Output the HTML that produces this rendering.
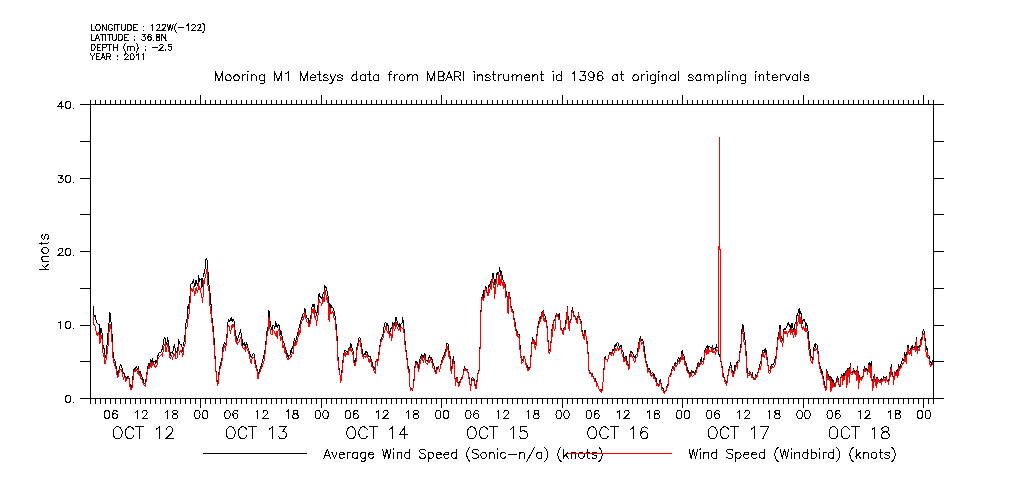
<!DOCTYPE html><html><head><meta charset="utf-8"><style>
html,body{margin:0;padding:0;background:#fff;}
svg{display:block;will-change:transform;}
text{font-family:"Liberation Sans",sans-serif;fill:#000;}
</style></head><body>
<svg width="1009" height="504" viewBox="0 0 1009 504">
<rect width="1009" height="504" fill="#fff"/>
<path d="M80.5 104.5L943.5 104.5 M80.5 398.5L943.5 398.5 M90.5 104.5L90.5 398.5 M933.5 104.5L933.5 398.5 M90.5 100.5L90.5 104.5 M90.5 398.5L90.5 403.5 M95.5 100.5L95.5 104.5 M95.5 398.5L95.5 403.5 M100.5 100.5L100.5 104.5 M100.5 398.5L100.5 403.5 M105.5 100.5L105.5 104.5 M105.5 398.5L105.5 403.5 M110.5 100.5L110.5 104.5 M110.5 398.5L110.5 403.5 M115.5 100.5L115.5 104.5 M115.5 398.5L115.5 403.5 M120.5 100.5L120.5 104.5 M120.5 398.5L120.5 403.5 M125.5 100.5L125.5 104.5 M125.5 398.5L125.5 403.5 M130.5 100.5L130.5 104.5 M130.5 398.5L130.5 403.5 M135.5 100.5L135.5 104.5 M135.5 398.5L135.5 403.5 M140.5 100.5L140.5 104.5 M140.5 398.5L140.5 403.5 M145.5 100.5L145.5 104.5 M145.5 398.5L145.5 403.5 M150.5 100.5L150.5 104.5 M150.5 398.5L150.5 403.5 M155.5 100.5L155.5 104.5 M155.5 398.5L155.5 403.5 M160.5 100.5L160.5 104.5 M160.5 398.5L160.5 403.5 M165.5 100.5L165.5 104.5 M165.5 398.5L165.5 403.5 M170.5 100.5L170.5 104.5 M170.5 398.5L170.5 403.5 M175.5 100.5L175.5 104.5 M175.5 398.5L175.5 403.5 M180.5 100.5L180.5 104.5 M180.5 398.5L180.5 403.5 M185.5 100.5L185.5 104.5 M185.5 398.5L185.5 403.5 M190.5 100.5L190.5 104.5 M190.5 398.5L190.5 403.5 M195.5 100.5L195.5 104.5 M195.5 398.5L195.5 403.5 M200.5 95.5L200.5 104.5 M200.5 398.5L200.5 407.5 M205.5 100.5L205.5 104.5 M205.5 398.5L205.5 403.5 M210.5 100.5L210.5 104.5 M210.5 398.5L210.5 403.5 M215.5 100.5L215.5 104.5 M215.5 398.5L215.5 403.5 M220.5 100.5L220.5 104.5 M220.5 398.5L220.5 403.5 M226.5 100.5L226.5 104.5 M226.5 398.5L226.5 403.5 M231.5 100.5L231.5 104.5 M231.5 398.5L231.5 403.5 M236.5 100.5L236.5 104.5 M236.5 398.5L236.5 403.5 M241.5 100.5L241.5 104.5 M241.5 398.5L241.5 403.5 M246.5 100.5L246.5 104.5 M246.5 398.5L246.5 403.5 M251.5 100.5L251.5 104.5 M251.5 398.5L251.5 403.5 M256.5 100.5L256.5 104.5 M256.5 398.5L256.5 403.5 M261.5 100.5L261.5 104.5 M261.5 398.5L261.5 403.5 M266.5 100.5L266.5 104.5 M266.5 398.5L266.5 403.5 M271.5 100.5L271.5 104.5 M271.5 398.5L271.5 403.5 M276.5 100.5L276.5 104.5 M276.5 398.5L276.5 403.5 M281.5 100.5L281.5 104.5 M281.5 398.5L281.5 403.5 M286.5 100.5L286.5 104.5 M286.5 398.5L286.5 403.5 M291.5 100.5L291.5 104.5 M291.5 398.5L291.5 403.5 M296.5 100.5L296.5 104.5 M296.5 398.5L296.5 403.5 M301.5 100.5L301.5 104.5 M301.5 398.5L301.5 403.5 M306.5 100.5L306.5 104.5 M306.5 398.5L306.5 403.5 M311.5 100.5L311.5 104.5 M311.5 398.5L311.5 403.5 M316.5 100.5L316.5 104.5 M316.5 398.5L316.5 403.5 M321.5 95.5L321.5 104.5 M321.5 398.5L321.5 407.5 M326.5 100.5L326.5 104.5 M326.5 398.5L326.5 403.5 M331.5 100.5L331.5 104.5 M331.5 398.5L331.5 403.5 M336.5 100.5L336.5 104.5 M336.5 398.5L336.5 403.5 M341.5 100.5L341.5 104.5 M341.5 398.5L341.5 403.5 M346.5 100.5L346.5 104.5 M346.5 398.5L346.5 403.5 M351.5 100.5L351.5 104.5 M351.5 398.5L351.5 403.5 M356.5 100.5L356.5 104.5 M356.5 398.5L356.5 403.5 M361.5 100.5L361.5 104.5 M361.5 398.5L361.5 403.5 M366.5 100.5L366.5 104.5 M366.5 398.5L366.5 403.5 M371.5 100.5L371.5 104.5 M371.5 398.5L371.5 403.5 M376.5 100.5L376.5 104.5 M376.5 398.5L376.5 403.5 M381.5 100.5L381.5 104.5 M381.5 398.5L381.5 403.5 M386.5 100.5L386.5 104.5 M386.5 398.5L386.5 403.5 M391.5 100.5L391.5 104.5 M391.5 398.5L391.5 403.5 M396.5 100.5L396.5 104.5 M396.5 398.5L396.5 403.5 M401.5 100.5L401.5 104.5 M401.5 398.5L401.5 403.5 M406.5 100.5L406.5 104.5 M406.5 398.5L406.5 403.5 M411.5 100.5L411.5 104.5 M411.5 398.5L411.5 403.5 M416.5 100.5L416.5 104.5 M416.5 398.5L416.5 403.5 M421.5 100.5L421.5 104.5 M421.5 398.5L421.5 403.5 M426.5 100.5L426.5 104.5 M426.5 398.5L426.5 403.5 M431.5 100.5L431.5 104.5 M431.5 398.5L431.5 403.5 M436.5 100.5L436.5 104.5 M436.5 398.5L436.5 403.5 M441.5 95.5L441.5 104.5 M441.5 398.5L441.5 407.5 M446.5 100.5L446.5 104.5 M446.5 398.5L446.5 403.5 M451.5 100.5L451.5 104.5 M451.5 398.5L451.5 403.5 M456.5 100.5L456.5 104.5 M456.5 398.5L456.5 403.5 M461.5 100.5L461.5 104.5 M461.5 398.5L461.5 403.5 M466.5 100.5L466.5 104.5 M466.5 398.5L466.5 403.5 M471.5 100.5L471.5 104.5 M471.5 398.5L471.5 403.5 M476.5 100.5L476.5 104.5 M476.5 398.5L476.5 403.5 M481.5 100.5L481.5 104.5 M481.5 398.5L481.5 403.5 M487.5 100.5L487.5 104.5 M487.5 398.5L487.5 403.5 M492.5 100.5L492.5 104.5 M492.5 398.5L492.5 403.5 M497.5 100.5L497.5 104.5 M497.5 398.5L497.5 403.5 M502.5 100.5L502.5 104.5 M502.5 398.5L502.5 403.5 M507.5 100.5L507.5 104.5 M507.5 398.5L507.5 403.5 M512.5 100.5L512.5 104.5 M512.5 398.5L512.5 403.5 M517.5 100.5L517.5 104.5 M517.5 398.5L517.5 403.5 M522.5 100.5L522.5 104.5 M522.5 398.5L522.5 403.5 M527.5 100.5L527.5 104.5 M527.5 398.5L527.5 403.5 M532.5 100.5L532.5 104.5 M532.5 398.5L532.5 403.5 M537.5 100.5L537.5 104.5 M537.5 398.5L537.5 403.5 M542.5 100.5L542.5 104.5 M542.5 398.5L542.5 403.5 M547.5 100.5L547.5 104.5 M547.5 398.5L547.5 403.5 M552.5 100.5L552.5 104.5 M552.5 398.5L552.5 403.5 M557.5 100.5L557.5 104.5 M557.5 398.5L557.5 403.5 M562.5 95.5L562.5 104.5 M562.5 398.5L562.5 407.5 M567.5 100.5L567.5 104.5 M567.5 398.5L567.5 403.5 M572.5 100.5L572.5 104.5 M572.5 398.5L572.5 403.5 M577.5 100.5L577.5 104.5 M577.5 398.5L577.5 403.5 M582.5 100.5L582.5 104.5 M582.5 398.5L582.5 403.5 M587.5 100.5L587.5 104.5 M587.5 398.5L587.5 403.5 M592.5 100.5L592.5 104.5 M592.5 398.5L592.5 403.5 M597.5 100.5L597.5 104.5 M597.5 398.5L597.5 403.5 M602.5 100.5L602.5 104.5 M602.5 398.5L602.5 403.5 M607.5 100.5L607.5 104.5 M607.5 398.5L607.5 403.5 M612.5 100.5L612.5 104.5 M612.5 398.5L612.5 403.5 M617.5 100.5L617.5 104.5 M617.5 398.5L617.5 403.5 M622.5 100.5L622.5 104.5 M622.5 398.5L622.5 403.5 M627.5 100.5L627.5 104.5 M627.5 398.5L627.5 403.5 M632.5 100.5L632.5 104.5 M632.5 398.5L632.5 403.5 M637.5 100.5L637.5 104.5 M637.5 398.5L637.5 403.5 M642.5 100.5L642.5 104.5 M642.5 398.5L642.5 403.5 M647.5 100.5L647.5 104.5 M647.5 398.5L647.5 403.5 M652.5 100.5L652.5 104.5 M652.5 398.5L652.5 403.5 M657.5 100.5L657.5 104.5 M657.5 398.5L657.5 403.5 M662.5 100.5L662.5 104.5 M662.5 398.5L662.5 403.5 M667.5 100.5L667.5 104.5 M667.5 398.5L667.5 403.5 M672.5 100.5L672.5 104.5 M672.5 398.5L672.5 403.5 M677.5 100.5L677.5 104.5 M677.5 398.5L677.5 403.5 M682.5 95.5L682.5 104.5 M682.5 398.5L682.5 407.5 M687.5 100.5L687.5 104.5 M687.5 398.5L687.5 403.5 M692.5 100.5L692.5 104.5 M692.5 398.5L692.5 403.5 M697.5 100.5L697.5 104.5 M697.5 398.5L697.5 403.5 M702.5 100.5L702.5 104.5 M702.5 398.5L702.5 403.5 M707.5 100.5L707.5 104.5 M707.5 398.5L707.5 403.5 M712.5 100.5L712.5 104.5 M712.5 398.5L712.5 403.5 M717.5 100.5L717.5 104.5 M717.5 398.5L717.5 403.5 M722.5 100.5L722.5 104.5 M722.5 398.5L722.5 403.5 M727.5 100.5L727.5 104.5 M727.5 398.5L727.5 403.5 M732.5 100.5L732.5 104.5 M732.5 398.5L732.5 403.5 M737.5 100.5L737.5 104.5 M737.5 398.5L737.5 403.5 M742.5 100.5L742.5 104.5 M742.5 398.5L742.5 403.5 M747.5 100.5L747.5 104.5 M747.5 398.5L747.5 403.5 M753.5 100.5L753.5 104.5 M753.5 398.5L753.5 403.5 M758.5 100.5L758.5 104.5 M758.5 398.5L758.5 403.5 M763.5 100.5L763.5 104.5 M763.5 398.5L763.5 403.5 M768.5 100.5L768.5 104.5 M768.5 398.5L768.5 403.5 M773.5 100.5L773.5 104.5 M773.5 398.5L773.5 403.5 M778.5 100.5L778.5 104.5 M778.5 398.5L778.5 403.5 M783.5 100.5L783.5 104.5 M783.5 398.5L783.5 403.5 M788.5 100.5L788.5 104.5 M788.5 398.5L788.5 403.5 M793.5 100.5L793.5 104.5 M793.5 398.5L793.5 403.5 M798.5 100.5L798.5 104.5 M798.5 398.5L798.5 403.5 M803.5 95.5L803.5 104.5 M803.5 398.5L803.5 407.5 M808.5 100.5L808.5 104.5 M808.5 398.5L808.5 403.5 M813.5 100.5L813.5 104.5 M813.5 398.5L813.5 403.5 M818.5 100.5L818.5 104.5 M818.5 398.5L818.5 403.5 M823.5 100.5L823.5 104.5 M823.5 398.5L823.5 403.5 M828.5 100.5L828.5 104.5 M828.5 398.5L828.5 403.5 M833.5 100.5L833.5 104.5 M833.5 398.5L833.5 403.5 M838.5 100.5L838.5 104.5 M838.5 398.5L838.5 403.5 M843.5 100.5L843.5 104.5 M843.5 398.5L843.5 403.5 M848.5 100.5L848.5 104.5 M848.5 398.5L848.5 403.5 M853.5 100.5L853.5 104.5 M853.5 398.5L853.5 403.5 M858.5 100.5L858.5 104.5 M858.5 398.5L858.5 403.5 M863.5 100.5L863.5 104.5 M863.5 398.5L863.5 403.5 M868.5 100.5L868.5 104.5 M868.5 398.5L868.5 403.5 M873.5 100.5L873.5 104.5 M873.5 398.5L873.5 403.5 M878.5 100.5L878.5 104.5 M878.5 398.5L878.5 403.5 M883.5 100.5L883.5 104.5 M883.5 398.5L883.5 403.5 M888.5 100.5L888.5 104.5 M888.5 398.5L888.5 403.5 M893.5 100.5L893.5 104.5 M893.5 398.5L893.5 403.5 M898.5 100.5L898.5 104.5 M898.5 398.5L898.5 403.5 M903.5 100.5L903.5 104.5 M903.5 398.5L903.5 403.5 M908.5 100.5L908.5 104.5 M908.5 398.5L908.5 403.5 M913.5 100.5L913.5 104.5 M913.5 398.5L913.5 403.5 M918.5 100.5L918.5 104.5 M918.5 398.5L918.5 403.5 M923.5 95.5L923.5 104.5 M923.5 398.5L923.5 407.5 M928.5 100.5L928.5 104.5 M928.5 398.5L928.5 403.5 M933.5 100.5L933.5 104.5 M933.5 398.5L933.5 403.5 M80.5 398.5L90.5 398.5 M933.5 398.5L943.5 398.5 M80.5 361.5L90.5 361.5 M933.5 361.5L943.5 361.5 M80.5 325.5L90.5 325.5 M933.5 325.5L943.5 325.5 M80.5 288.5L90.5 288.5 M933.5 288.5L943.5 288.5 M80.5 251.5L90.5 251.5 M933.5 251.5L943.5 251.5 M80.5 214.5L90.5 214.5 M933.5 214.5L943.5 214.5 M80.5 178.5L90.5 178.5 M933.5 178.5L943.5 178.5 M80.5 141.5L90.5 141.5 M933.5 141.5L943.5 141.5 M80.5 104.5L90.5 104.5 M933.5 104.5L943.5 104.5" stroke="#000" stroke-width="1" fill="none" shape-rendering="crispEdges" stroke-linecap="square"/>
<path transform="translate(48.5,252) rotate(-90) translate(-19.11,0)" d="M1.82 -10.00L1.82 0.00M6.37 -6.66L1.82 -1.90M3.64 -3.81L6.83 0.00M9.55 -6.66L9.55 0.00M9.55 -4.76L10.92 -6.19L11.83 -6.66L13.20 -6.66L14.11 -6.19L14.56 -4.76L14.56 0.00M20.02 -6.66L19.11 -6.19L18.20 -5.24L17.75 -3.81L17.75 -2.86L18.20 -1.43L19.11 -0.48L20.02 0.00L21.39 0.00L22.30 -0.48L23.21 -1.43L23.66 -2.86L23.66 -3.81L23.21 -5.24L22.30 -6.19L21.39 -6.66L20.02 -6.66M27.30 -10.00L27.30 -1.90L27.76 -0.48L28.67 0.00L29.57 0.00M25.94 -6.66L29.12 -6.66M36.86 -5.24L36.40 -6.19L35.04 -6.66L33.67 -6.66L32.30 -6.19L31.85 -5.24L32.30 -4.28L33.22 -3.81L35.49 -3.33L36.40 -2.86L36.86 -1.90L36.86 -1.43L36.40 -0.48L35.04 0.00L33.67 0.00L32.30 -0.48L31.85 -1.43" stroke="#000" stroke-width="1" fill="none" shape-rendering="crispEdges"/>
<polyline points="93.2,305.6 94.0,316.7 94.9,314.9 95.7,319.2 96.5,322.1 97.4,323.4 98.2,324.3 99.1,324.5 99.9,336.6 100.7,327.6 101.6,330.3 102.4,335.4 103.2,348.0 104.1,348.7 104.9,357.6 105.7,357.5 106.6,350.1 107.4,339.9 108.3,329.9 109.1,322.4 109.9,311.7 110.8,319.4 111.6,327.8 112.4,340.2 113.3,357.5 114.1,359.0 114.9,360.7 115.8,364.8 116.6,368.2 117.5,375.0 118.3,371.4 119.1,369.7 120.0,365.9 120.8,364.8 121.6,365.3 122.5,370.4 123.3,372.5 124.2,373.8 125.0,376.8 125.8,377.1 126.7,378.7 127.5,376.9 128.3,376.7 129.2,378.7 130.0,383.8 130.8,386.6 131.7,387.3 132.5,382.0 133.4,372.1 134.2,368.1 135.0,369.8 135.9,367.8 136.7,366.9 137.5,368.9 138.4,367.5 139.2,372.5 140.0,371.3 140.9,373.8 141.7,376.3 142.6,378.2 143.4,380.7 144.2,383.6 145.1,384.3 145.9,379.8 146.7,373.6 147.6,369.2 148.4,363.1 149.2,366.6 150.1,362.5 150.9,359.1 151.8,364.6 152.6,360.0 153.4,362.2 154.3,361.5 155.1,360.6 155.9,363.3 156.8,361.6 157.6,356.8 158.4,354.4 159.3,352.8 160.1,352.5 161.0,351.9 161.8,350.6 162.6,346.8 163.5,342.8 164.3,337.5 165.1,337.9 166.0,345.0 166.8,343.3 167.6,337.2 168.5,342.6 169.3,348.3 170.2,355.6 171.0,352.0 171.8,352.3 172.7,353.1 173.5,349.0 174.3,344.6 175.2,348.9 176.0,352.3 176.9,351.7 177.7,351.6 178.5,338.6 179.4,343.7 180.2,344.4 181.0,343.8 181.9,345.8 182.7,351.5 183.5,346.5 184.4,339.2 185.2,333.5 186.1,321.4 186.9,320.6 187.7,306.3 188.6,309.4 189.4,299.2 190.2,294.7 191.1,283.1 191.9,283.6 192.7,282.4 193.6,278.6 194.4,286.3 195.3,285.6 196.1,279.7 196.9,283.6 197.8,285.4 198.6,275.0 199.4,281.2 200.3,279.4 201.1,278.9 201.9,288.0 202.8,279.1 203.6,273.2 204.5,273.1 205.3,266.9 206.1,258.2 207.0,259.9 207.8,268.2 208.6,282.0 209.5,287.9 210.3,296.3 211.1,305.5 212.0,317.5 212.8,324.9 213.7,330.7 214.5,348.6 215.3,360.3 216.2,373.8 217.0,379.6 217.8,384.6 218.7,376.3 219.5,366.5 220.3,365.7 221.2,360.7 222.0,357.7 222.9,346.9 223.7,345.0 224.5,343.0 225.4,344.5 226.2,343.0 227.0,334.3 227.9,322.2 228.7,319.6 229.5,321.2 230.4,320.7 231.2,316.9 232.1,321.4 232.9,319.7 233.7,320.1 234.6,323.7 235.4,335.7 236.2,336.6 237.1,340.4 237.9,338.0 238.8,335.5 239.6,332.7 240.4,330.7 241.3,333.7 242.1,340.1 242.9,344.9 243.8,343.4 244.6,343.0 245.4,347.9 246.3,342.0 247.1,344.9 248.0,348.1 248.8,350.5 249.6,352.6 250.5,355.3 251.3,357.7 252.1,355.9 253.0,354.1 253.8,353.3 254.6,357.1 255.5,363.7 256.3,365.6 257.2,369.7 258.0,377.3 258.8,372.7 259.7,370.2 260.5,366.7 261.3,365.0 262.2,362.0 263.0,358.9 263.8,355.9 264.7,352.2 265.5,345.7 266.4,337.7 267.2,328.7 268.0,327.4 268.9,309.9 269.7,320.2 270.5,323.6 271.4,329.6 272.2,329.4 273.0,324.8 273.9,326.0 274.7,328.7 275.6,322.4 276.4,323.9 277.2,327.8 278.1,324.6 278.9,325.1 279.7,328.1 280.6,335.1 281.4,331.0 282.2,336.9 283.1,341.1 283.9,341.8 284.8,350.3 285.6,347.6 286.4,351.9 287.3,354.3 288.1,357.2 288.9,355.1 289.8,355.9 290.6,351.0 291.5,352.0 292.3,346.5 293.1,348.9 294.0,340.7 294.8,338.9 295.6,342.7 296.5,337.5 297.3,335.7 298.1,331.7 299.0,328.1 299.8,325.4 300.7,321.7 301.5,318.1 302.3,317.1 303.2,313.5 304.0,312.9 304.8,307.9 305.7,313.7 306.5,317.3 307.3,318.3 308.2,318.9 309.0,324.7 309.9,319.9 310.7,319.2 311.5,309.4 312.4,304.7 313.2,306.3 314.0,304.4 314.9,313.0 315.7,310.6 316.5,314.6 317.4,311.8 318.2,302.8 319.1,293.3 319.9,296.7 320.7,297.1 321.6,298.1 322.4,298.3 323.2,292.3 324.1,293.5 324.9,285.6 325.7,287.3 326.6,288.3 327.4,293.0 328.3,296.8 329.1,309.1 329.9,303.5 330.8,308.0 331.6,306.4 332.4,307.6 333.3,308.1 334.1,311.3 334.9,315.0 335.8,323.4 336.6,327.3 337.5,345.1 338.3,363.3 339.1,368.8 340.0,374.6 340.8,382.3 341.6,373.9 342.5,366.1 343.3,357.4 344.2,352.1 345.0,350.1 345.8,350.6 346.7,351.7 347.5,351.5 348.3,353.1 349.2,347.0 350.0,348.4 350.8,343.5 351.7,347.1 352.5,349.9 353.4,352.2 354.2,361.8 355.0,364.1 355.9,359.4 356.7,348.8 357.5,345.4 358.4,341.1 359.2,337.3 360.0,338.1 360.9,342.1 361.7,346.4 362.6,352.8 363.4,356.1 364.2,353.3 365.1,355.0 365.9,351.7 366.7,351.9 367.6,353.4 368.4,356.1 369.2,356.1 370.1,356.4 370.9,358.9 371.8,362.5 372.6,362.8 373.4,368.8 374.3,369.1 375.1,366.5 375.9,360.9 376.8,359.2 377.6,362.2 378.4,356.7 379.3,350.4 380.1,344.5 381.0,339.1 381.8,337.0 382.6,336.8 383.5,330.7 384.3,325.1 385.1,323.0 386.0,322.7 386.8,326.4 387.6,324.3 388.5,326.6 389.3,333.4 390.2,330.9 391.0,328.6 391.8,327.7 392.7,323.1 393.5,323.7 394.3,326.1 395.2,321.1 396.0,317.4 396.8,320.3 397.7,323.8 398.5,325.8 399.4,324.5 400.2,327.4 401.0,323.7 401.9,324.0 402.7,317.4 403.5,323.5 404.4,333.3 405.2,344.0 406.1,350.6 406.9,356.1 407.7,367.5 408.6,366.6 409.4,372.2 410.2,391.1 411.1,388.7 411.9,389.7 412.7,390.7 413.6,383.3 414.4,375.1 415.3,362.1 416.1,361.1 416.9,362.7 417.8,363.3 418.6,366.3 419.4,363.9 420.3,356.9 421.1,355.5 421.9,354.8 422.8,358.9 423.6,356.5 424.5,354.1 425.3,355.0 426.1,361.2 427.0,360.3 427.8,361.9 428.6,358.5 429.5,356.3 430.3,357.4 431.1,357.8 432.0,359.4 432.8,362.9 433.7,364.9 434.5,368.1 435.3,371.4 436.2,372.2 437.0,367.4 437.8,368.8 438.7,366.3 439.5,372.0 440.3,366.7 441.2,363.3 442.0,359.8 442.9,357.2 443.7,356.8 444.5,353.1 445.4,352.2 446.2,348.2 447.0,343.3 447.9,343.0 448.7,350.0 449.5,352.2 450.4,358.2 451.2,373.3 452.1,365.1 452.9,359.8 453.7,355.9 454.6,370.4 455.4,384.5 456.2,381.1 457.1,376.7 457.9,382.2 458.8,384.3 459.6,382.6 460.4,379.6 461.3,378.7 462.1,377.2 462.9,375.5 463.8,369.9 464.6,367.0 465.4,368.5 466.3,369.7 467.1,369.3 468.0,372.1 468.8,375.5 469.6,380.2 470.5,387.8 471.3,383.0 472.1,377.3 473.0,377.8 473.8,378.6 474.6,381.7 475.5,386.2 476.3,385.7 477.2,379.1 478.0,373.3 478.8,371.5 479.7,365.9 480.5,318.1 481.3,306.3 482.2,294.4 483.0,299.1 483.8,291.5 484.7,292.8 485.5,285.9 486.4,288.4 487.2,292.8 488.0,295.4 488.9,286.1 489.7,286.7 490.5,281.1 491.4,289.7 492.2,275.9 493.0,273.4 493.9,278.3 494.7,284.2 495.6,283.6 496.4,275.7 497.2,272.3 498.1,275.4 498.9,272.5 499.7,266.6 500.6,275.5 501.4,270.8 502.2,276.2 503.1,280.4 503.9,282.2 504.8,282.0 505.6,288.4 506.4,294.1 507.3,297.0 508.1,301.8 508.9,291.6 509.8,294.9 510.6,302.2 511.5,309.6 512.3,309.5 513.1,311.6 514.0,318.5 514.8,321.8 515.6,323.7 516.5,334.2 517.3,332.1 518.1,334.0 519.0,334.0 519.8,342.5 520.7,351.9 521.5,361.7 522.3,360.7 523.2,359.3 524.0,356.5 524.8,357.0 525.7,363.6 526.5,364.3 527.3,365.3 528.2,369.2 529.0,367.4 529.9,368.2 530.7,359.8 531.5,348.5 532.4,337.3 533.2,340.9 534.0,339.6 534.9,345.5 535.7,344.3 536.5,338.1 537.4,330.8 538.2,324.6 539.1,320.9 539.9,317.3 540.7,318.1 541.6,312.7 542.4,312.4 543.2,310.7 544.1,314.8 544.9,315.8 545.7,319.3 546.6,321.3 547.4,330.6 548.3,344.5 549.1,349.2 549.9,351.0 550.8,345.3 551.6,330.4 552.4,331.4 553.3,320.5 554.1,320.7 554.9,319.7 555.8,315.6 556.6,313.6 557.5,314.6 558.3,318.1 559.1,313.2 560.0,320.4 560.8,328.3 561.6,328.1 562.5,333.0 563.3,329.4 564.1,327.4 565.0,327.4 565.8,320.9 566.7,316.2 567.5,305.9 568.3,322.1 569.2,326.7 570.0,321.2 570.8,321.4 571.7,311.7 572.5,307.4 573.4,313.1 574.2,315.2 575.0,315.7 575.9,318.0 576.7,321.0 577.5,321.4 578.4,312.1 579.2,317.3 580.0,318.8 580.9,319.7 581.7,329.3 582.6,332.2 583.4,336.0 584.2,336.9 585.1,329.6 585.9,335.1 586.7,339.9 587.6,344.6 588.4,358.8 589.2,372.9 590.1,371.8 590.9,372.8 591.8,375.7 592.6,374.2 593.4,377.9 594.3,378.7 595.1,378.5 595.9,380.7 596.8,383.0 597.6,383.5 598.4,387.6 599.3,389.4 600.1,389.9 601.0,391.8 601.8,390.4 602.6,385.4 603.5,377.1 604.3,362.5 605.1,356.1 606.0,359.3 606.8,359.8 607.6,359.4 608.5,357.8 609.3,352.9 610.2,353.0 611.0,352.5 611.8,352.7 612.7,349.5 613.5,350.1 614.3,348.0 615.2,344.8 616.0,346.5 616.8,343.1 617.7,342.4 618.5,343.5 619.4,347.3 620.2,346.8 621.0,345.2 621.9,349.9 622.7,350.4 623.5,355.5 624.4,359.2 625.2,356.2 626.1,356.7 626.9,362.2 627.7,361.9 628.6,368.5 629.4,363.9 630.2,351.3 631.1,351.5 631.9,352.7 632.7,353.0 633.6,355.5 634.4,357.6 635.3,358.6 636.1,354.8 636.9,355.1 637.8,350.6 638.6,342.7 639.4,341.2 640.3,336.0 641.1,339.1 641.9,341.1 642.8,339.7 643.6,343.6 644.5,349.9 645.3,355.7 646.1,361.7 647.0,364.2 647.8,367.7 648.6,368.5 649.5,369.0 650.3,370.4 651.1,373.8 652.0,373.2 652.8,372.4 653.7,376.0 654.5,374.8 655.3,378.0 656.2,378.7 657.0,383.3 657.8,384.0 658.7,384.4 659.5,383.4 660.3,378.7 661.2,384.5 662.0,387.7 662.9,388.2 663.7,390.2 664.5,392.2 665.4,390.9 666.2,390.0 667.0,386.0 667.9,385.0 668.7,378.6 669.5,375.3 670.4,374.6 671.2,372.0 672.1,369.1 672.9,366.6 673.7,366.8 674.6,364.3 675.4,362.5 676.2,363.9 677.1,363.3 677.9,359.4 678.8,357.3 679.6,361.5 680.4,357.9 681.3,357.9 682.1,350.0 682.9,355.4 683.8,354.5 684.6,359.8 685.4,363.1 686.3,363.6 687.1,367.1 688.0,371.6 688.8,370.4 689.6,376.0 690.5,374.4 691.3,370.8 692.1,371.0 693.0,372.6 693.8,371.8 694.6,373.1 695.5,372.2 696.3,369.2 697.2,367.0 698.0,363.6 698.8,362.1 699.7,365.9 700.5,360.2 701.3,357.9 702.2,361.5 703.0,362.1 703.8,360.3 704.7,350.2 705.5,348.9 706.4,346.9 707.2,345.6 708.0,348.6 708.9,346.3 709.7,346.5 710.5,347.4 711.4,348.7 712.2,346.0 713.0,349.6 713.9,348.4 714.7,348.1 715.6,350.0 716.4,345.2 717.2,347.2 718.1,347.2 718.9,354.2 719.7,355.5 720.6,359.6 721.4,364.4 722.2,366.9 723.1,374.1 723.9,376.2 724.8,379.8 725.6,381.1 726.4,382.3 727.3,380.4 728.1,374.8 728.9,369.0 729.8,367.0 730.6,363.7 731.4,366.6 732.3,371.3 733.1,374.9 734.0,370.9 734.8,366.2 735.6,366.9 736.5,362.5 737.3,363.9 738.1,360.5 739.0,360.2 739.8,352.0 740.7,348.4 741.5,337.4 742.3,324.4 743.2,325.3 744.0,331.6 744.8,338.3 745.7,344.9 746.5,360.3 747.3,372.2 748.2,373.7 749.0,372.9 749.9,371.8 750.7,373.1 751.5,376.0 752.4,373.4 753.2,377.8 754.0,379.9 754.9,378.3 755.7,375.3 756.5,376.3 757.4,374.8 758.2,370.7 759.1,367.5 759.9,364.2 760.7,363.4 761.6,357.1 762.4,350.8 763.2,350.5 764.1,349.7 764.9,352.5 765.7,349.3 766.6,352.4 767.4,361.6 768.3,366.0 769.1,371.2 769.9,370.4 770.8,366.3 771.6,364.9 772.4,364.6 773.3,364.8 774.1,362.6 774.9,359.2 775.8,357.8 776.6,350.5 777.5,343.2 778.3,332.9 779.1,331.8 780.0,325.0 780.8,336.2 781.6,336.9 782.5,341.0 783.3,336.2 784.1,328.5 785.0,329.6 785.8,328.2 786.7,327.2 787.5,324.5 788.3,321.9 789.2,326.3 790.0,324.6 790.8,330.2 791.7,323.3 792.5,323.9 793.4,330.8 794.2,329.3 795.0,324.2 795.9,323.6 796.7,315.6 797.5,314.8 798.4,312.0 799.2,307.8 800.0,314.3 800.9,311.5 801.7,319.1 802.6,322.5 803.4,319.5 804.2,319.9 805.1,322.6 805.9,326.1 806.7,324.1 807.6,326.6 808.4,334.3 809.2,343.6 810.1,349.9 810.9,356.4 811.8,356.5 812.6,360.5 813.4,353.5 814.3,344.2 815.1,347.6 815.9,343.7 816.8,345.0 817.6,345.1 818.4,356.4 819.3,364.0 820.1,366.7 821.0,368.9 821.8,372.9 822.6,372.1 823.5,380.5 824.3,382.2 825.1,386.1 826.0,388.3 826.8,369.3 827.6,377.6 828.5,375.4 829.3,378.3 830.2,376.1 831.0,389.0 831.8,377.0 832.7,385.1 833.5,380.1 834.3,384.8 835.2,385.8 836.0,381.7 836.8,378.8 837.7,376.0 838.5,381.9 839.4,385.8 840.2,383.7 841.0,376.7 841.9,374.1 842.7,383.5 843.5,373.3 844.4,376.5 845.2,371.8 846.1,371.1 846.9,382.9 847.7,368.7 848.6,368.1 849.4,380.2 850.2,362.7 851.1,372.7 851.9,372.4 852.7,372.7 853.6,368.4 854.4,372.2 855.3,373.7 856.1,370.2 856.9,379.3 857.8,366.0 858.6,385.7 859.4,375.8 860.3,377.6 861.1,377.5 861.9,377.7 862.8,377.6 863.6,371.9 864.5,366.3 865.3,369.9 866.1,368.4 867.0,369.7 867.8,370.9 868.6,363.2 869.5,362.9 870.3,377.1 871.1,361.5 872.0,379.3 872.8,389.2 873.7,378.0 874.5,374.4 875.3,381.5 876.2,383.7 877.0,377.3 877.8,381.9 878.7,379.7 879.5,381.2 880.3,379.9 881.2,384.1 882.0,378.6 882.9,380.7 883.7,376.7 884.5,377.2 885.4,378.9 886.2,376.4 887.0,381.0 887.9,380.9 888.7,383.3 889.5,372.1 890.4,375.2 891.2,364.5 892.1,372.8 892.9,375.6 893.7,382.3 894.6,371.1 895.4,373.4 896.2,372.6 897.1,369.5 897.9,374.6 898.7,365.4 899.6,367.3 900.4,366.1 901.3,363.1 902.1,360.6 902.9,358.3 903.8,360.9 904.6,352.9 905.4,354.6 906.3,360.7 907.1,351.2 908.0,345.3 908.8,350.8 909.6,350.8 910.5,349.4 911.3,353.7 912.1,344.9 913.0,347.5 913.8,347.0 914.6,346.7 915.5,349.4 916.3,337.5 917.2,351.4 918.0,346.2 918.8,347.2 919.7,348.1 920.5,340.2 921.3,341.3 922.2,335.3 923.0,331.3 923.8,328.7 924.7,336.0 925.5,341.6 926.4,350.1 927.2,347.9 928.0,356.0 928.9,355.7 929.7,360.2 930.5,362.1 931.4,364.4 932.2,361.8 933.0,360.6" stroke="#000" stroke-width="1" fill="none" shape-rendering="crispEdges"/>
<polyline points="93.2,314.7 94.0,324.5 94.9,325.9 95.7,329.7 96.5,334.2 97.4,334.9 98.2,333.0 99.1,335.2 99.9,344.0 100.7,335.1 101.6,335.9 102.4,342.0 103.2,356.4 104.1,353.8 104.9,363.8 105.7,362.0 106.6,356.8 107.4,351.7 108.3,343.8 109.1,330.0 109.9,323.8 110.8,326.6 111.6,335.6 112.4,347.4 113.3,362.5 114.1,362.7 114.9,365.5 115.8,368.4 116.6,371.5 117.5,378.4 118.3,375.6 119.1,372.6 120.0,369.5 120.8,369.0 121.6,371.2 122.5,373.2 123.3,379.4 124.2,377.6 125.0,377.4 125.8,381.0 126.7,379.8 127.5,378.5 128.3,378.0 129.2,379.6 130.0,386.5 130.8,389.1 131.7,389.5 132.5,385.2 133.4,376.5 134.2,370.5 135.0,372.1 135.9,369.4 136.7,370.0 137.5,372.7 138.4,370.6 139.2,376.2 140.0,373.6 140.9,378.4 141.7,379.3 142.6,381.6 143.4,384.0 144.2,385.4 145.1,386.3 145.9,382.7 146.7,375.9 147.6,372.0 148.4,366.8 149.2,368.1 150.1,366.3 150.9,362.5 151.8,367.5 152.6,362.2 153.4,364.7 154.3,364.9 155.1,367.5 155.9,366.0 156.8,366.4 157.6,360.9 158.4,357.6 159.3,356.9 160.1,356.2 161.0,355.1 161.8,354.7 162.6,355.9 163.5,348.2 164.3,344.9 165.1,344.0 166.0,351.6 166.8,348.6 167.6,343.3 168.5,348.5 169.3,354.0 170.2,358.8 171.0,356.8 171.8,355.9 172.7,359.5 173.5,353.1 174.3,355.1 175.2,353.7 176.0,358.7 176.9,358.5 177.7,355.9 178.5,344.8 179.4,355.0 180.2,351.2 181.0,349.7 181.9,352.3 182.7,357.4 183.5,350.2 184.4,345.1 185.2,343.9 186.1,327.3 186.9,328.8 187.7,318.8 188.6,317.8 189.4,309.8 190.2,301.0 191.1,287.7 191.9,290.7 192.7,291.2 193.6,286.1 194.4,295.4 195.3,293.4 196.1,287.1 196.9,291.1 197.8,292.3 198.6,282.4 199.4,289.1 200.3,288.7 201.1,294.1 201.9,297.1 202.8,302.7 203.6,280.6 204.5,282.7 205.3,275.7 206.1,273.3 207.0,269.0 207.8,285.1 208.6,288.7 209.5,293.3 210.3,313.6 211.1,311.9 212.0,323.0 212.8,329.4 213.7,339.3 214.5,353.4 215.3,362.5 216.2,374.1 217.0,382.4 217.8,386.0 218.7,378.1 219.5,371.4 220.3,367.9 221.2,365.4 222.0,361.3 222.9,352.3 223.7,347.9 224.5,346.2 225.4,349.1 226.2,345.4 227.0,337.9 227.9,327.2 228.7,325.9 229.5,326.1 230.4,334.4 231.2,328.4 232.1,324.5 232.9,327.3 233.7,325.0 234.6,330.1 235.4,341.7 236.2,340.4 237.1,344.7 237.9,342.5 238.8,342.7 239.6,340.4 240.4,337.4 241.3,338.6 242.1,346.8 242.9,347.9 243.8,348.7 244.6,347.8 245.4,351.5 246.3,346.2 247.1,349.7 248.0,350.3 248.8,353.4 249.6,356.6 250.5,361.8 251.3,362.7 252.1,358.4 253.0,357.5 253.8,357.4 254.6,360.8 255.5,367.0 256.3,367.3 257.2,371.9 258.0,379.4 258.8,374.3 259.7,373.8 260.5,370.4 261.3,368.1 262.2,366.0 263.0,364.0 263.8,362.2 264.7,356.4 265.5,349.8 266.4,340.7 267.2,334.1 268.0,331.6 268.9,316.8 269.7,325.4 270.5,333.4 271.4,334.9 272.2,334.4 273.0,329.9 273.9,330.9 274.7,333.2 275.6,335.7 276.4,330.6 277.2,339.2 278.1,330.5 278.9,329.4 279.7,333.7 280.6,339.6 281.4,338.5 282.2,341.0 283.1,348.2 283.9,345.6 284.8,352.1 285.6,351.0 286.4,357.2 287.3,358.4 288.1,359.9 288.9,358.5 289.8,358.6 290.6,357.2 291.5,355.7 292.3,352.5 293.1,353.1 294.0,346.2 294.8,342.4 295.6,346.2 296.5,342.5 297.3,340.9 298.1,336.7 299.0,330.5 299.8,335.1 300.7,325.4 301.5,321.5 302.3,320.2 303.2,319.3 304.0,316.6 304.8,311.7 305.7,318.1 306.5,320.3 307.3,322.8 308.2,322.4 309.0,326.7 309.9,323.2 310.7,323.0 311.5,312.6 312.4,308.8 313.2,314.2 314.0,308.2 314.9,317.7 315.7,315.7 316.5,325.8 317.4,317.6 318.2,313.7 319.1,298.9 319.9,302.0 320.7,302.0 321.6,306.1 322.4,302.6 323.2,296.8 324.1,302.1 324.9,290.1 325.7,292.1 326.6,299.8 327.4,297.6 328.3,306.1 329.1,321.5 329.9,307.2 330.8,313.1 331.6,313.7 332.4,311.5 333.3,312.8 334.1,318.5 334.9,319.1 335.8,327.9 336.6,335.2 337.5,348.8 338.3,367.2 339.1,370.8 340.0,375.4 340.8,383.1 341.6,377.2 342.5,367.7 343.3,361.1 344.2,354.1 345.0,352.1 345.8,355.6 346.7,353.5 347.5,353.2 348.3,355.3 349.2,348.8 350.0,350.4 350.8,348.9 351.7,350.1 352.5,354.1 353.4,355.1 354.2,364.9 355.0,365.6 355.9,364.1 356.7,350.7 357.5,349.2 358.4,344.2 359.2,341.7 360.0,340.4 360.9,345.7 361.7,353.2 362.6,354.8 363.4,358.0 364.2,356.5 365.1,356.4 365.9,357.2 366.7,355.0 367.6,356.5 368.4,359.7 369.2,362.3 370.1,359.1 370.9,361.1 371.8,366.4 372.6,366.2 373.4,370.2 374.3,371.2 375.1,372.9 375.9,362.4 376.8,359.5 377.6,365.5 378.4,357.2 379.3,353.3 380.1,346.5 381.0,341.8 381.8,339.7 382.6,340.0 383.5,335.8 384.3,332.1 385.1,329.4 386.0,326.1 386.8,330.4 387.6,332.1 388.5,329.9 389.3,336.9 390.2,335.3 391.0,333.5 391.8,340.6 392.7,327.0 393.5,325.5 394.3,330.2 395.2,328.7 396.0,322.0 396.8,326.9 397.7,328.2 398.5,330.2 399.4,328.6 400.2,330.9 401.0,327.3 401.9,327.9 402.7,328.6 403.5,327.4 404.4,336.9 405.2,347.1 406.1,352.3 406.9,358.1 407.7,368.3 408.6,371.1 409.4,373.8 410.2,391.2 411.1,389.1 411.9,389.9 412.7,389.8 413.6,383.9 414.4,377.5 415.3,363.7 416.1,364.2 416.9,363.6 417.8,366.4 418.6,371.8 419.4,366.2 420.3,362.2 421.1,359.4 421.9,356.9 422.8,360.1 423.6,362.9 424.5,356.5 425.3,358.4 426.1,363.9 427.0,362.8 427.8,364.2 428.6,360.3 429.5,361.7 430.3,358.8 431.1,361.1 432.0,363.1 432.8,367.9 433.7,368.5 434.5,370.6 435.3,373.3 436.2,373.6 437.0,369.2 437.8,369.9 438.7,367.1 439.5,371.7 440.3,367.1 441.2,364.9 442.0,362.6 442.9,359.6 443.7,358.2 444.5,356.7 445.4,354.7 446.2,351.1 447.0,346.3 447.9,348.4 448.7,356.5 449.5,354.6 450.4,362.6 451.2,373.9 452.1,368.8 452.9,364.7 453.7,358.6 454.6,372.3 455.4,386.0 456.2,380.8 457.1,378.2 457.9,383.0 458.8,386.3 459.6,385.4 460.4,381.0 461.3,379.1 462.1,378.6 462.9,375.4 463.8,371.5 464.6,368.8 465.4,370.0 466.3,370.5 467.1,370.5 468.0,372.8 468.8,377.8 469.6,380.9 470.5,390.7 471.3,384.1 472.1,380.1 473.0,379.7 473.8,380.3 474.6,384.1 475.5,388.4 476.3,388.6 477.2,379.9 478.0,374.1 478.8,371.3 479.7,369.0 480.5,319.5 481.3,308.1 482.2,296.0 483.0,300.3 483.8,299.7 484.7,293.5 485.5,287.7 486.4,290.1 487.2,294.5 488.0,296.2 488.9,288.5 489.7,292.8 490.5,284.0 491.4,289.5 492.2,276.6 493.0,282.4 493.9,285.5 494.7,298.6 495.6,286.0 496.4,278.0 497.2,286.2 498.1,284.7 498.9,273.1 499.7,284.5 500.6,285.1 501.4,273.6 502.2,285.5 503.1,281.3 503.9,288.8 504.8,283.5 505.6,298.2 506.4,296.4 507.3,297.6 508.1,314.4 508.9,292.9 509.8,296.2 510.6,305.0 511.5,311.1 512.3,310.7 513.1,312.9 514.0,319.7 514.8,326.6 515.6,326.4 516.5,336.2 517.3,332.9 518.1,337.8 519.0,335.8 519.8,348.3 520.7,353.5 521.5,363.5 522.3,362.5 523.2,361.9 524.0,356.7 524.8,357.3 525.7,364.4 526.5,363.5 527.3,370.7 528.2,370.2 529.0,369.7 529.9,369.0 530.7,360.8 531.5,350.2 532.4,340.2 533.2,343.5 534.0,339.8 534.9,347.7 535.7,350.0 536.5,341.0 537.4,333.1 538.2,326.9 539.1,323.3 539.9,318.1 540.7,321.5 541.6,313.2 542.4,315.5 543.2,311.3 544.1,321.4 544.9,318.4 545.7,321.1 546.6,323.6 547.4,332.0 548.3,346.6 549.1,353.2 549.9,352.9 550.8,347.6 551.6,331.3 552.4,336.8 553.3,320.4 554.1,330.3 554.9,330.8 555.8,317.4 556.6,314.9 557.5,314.8 558.3,318.9 559.1,319.4 560.0,320.2 560.8,329.3 561.6,329.2 562.5,333.6 563.3,334.5 564.1,328.0 565.0,330.0 565.8,326.2 566.7,316.8 567.5,307.3 568.3,327.7 569.2,329.3 570.0,322.4 570.8,322.9 571.7,312.9 572.5,309.8 573.4,316.2 574.2,316.6 575.0,316.0 575.9,319.9 576.7,323.0 577.5,323.3 578.4,313.2 579.2,318.8 580.0,320.1 580.9,322.1 581.7,331.5 582.6,333.4 583.4,337.8 584.2,338.7 585.1,331.9 585.9,335.1 586.7,342.0 587.6,347.1 588.4,361.1 589.2,373.7 590.1,374.0 590.9,373.0 591.8,376.4 592.6,375.5 593.4,378.3 594.3,378.5 595.1,382.0 595.9,381.2 596.8,386.8 597.6,384.1 598.4,387.3 599.3,390.3 600.1,389.3 601.0,392.1 601.8,392.8 602.6,386.2 603.5,378.1 604.3,364.8 605.1,357.9 606.0,359.4 606.8,359.7 607.6,361.0 608.5,357.5 609.3,354.3 610.2,354.3 611.0,353.4 611.8,355.0 612.7,351.8 613.5,354.5 614.3,352.1 615.2,348.7 616.0,351.1 616.8,349.6 617.7,347.3 618.5,350.0 619.4,349.0 620.2,348.4 621.0,348.3 621.9,353.5 622.7,354.9 623.5,361.6 624.4,361.2 625.2,358.0 626.1,361.1 626.9,364.3 627.7,363.8 628.6,370.4 629.4,367.3 630.2,353.4 631.1,354.5 631.9,356.3 632.7,357.1 633.6,359.4 634.4,362.3 635.3,361.9 636.1,357.3 636.9,357.9 637.8,353.7 638.6,345.8 639.4,347.5 640.3,338.5 641.1,342.2 641.9,344.7 642.8,342.5 643.6,348.3 644.5,355.7 645.3,358.8 646.1,363.4 647.0,366.7 647.8,373.0 648.6,370.4 649.5,372.2 650.3,374.0 651.1,376.4 652.0,375.6 652.8,374.9 653.7,378.0 654.5,377.4 655.3,380.2 656.2,382.5 657.0,386.0 657.8,384.8 658.7,386.4 659.5,384.3 660.3,380.7 661.2,384.6 662.0,390.0 662.9,390.8 663.7,392.0 664.5,393.2 665.4,391.5 666.2,390.3 667.0,386.8 667.9,388.0 668.7,378.0 669.5,375.9 670.4,376.1 671.2,374.3 672.1,370.8 672.9,370.4 673.7,367.5 674.6,369.6 675.4,364.8 676.2,366.3 677.1,364.7 677.9,362.2 678.8,360.8 679.6,364.1 680.4,359.0 681.3,359.0 682.1,353.6 682.9,359.4 683.8,357.8 684.6,364.7 685.4,364.0 686.3,366.6 687.1,371.2 688.0,372.6 688.8,372.9 689.6,377.2 690.5,376.2 691.3,373.5 692.1,376.3 693.0,376.0 693.8,375.0 694.6,374.6 695.5,374.0 696.3,371.7 697.2,368.2 698.0,366.9 698.8,364.1 699.7,366.4 700.5,362.7 701.3,361.7 702.2,364.7 703.0,364.0 703.8,362.1 704.7,353.3 705.5,351.2 706.4,353.5 707.2,348.0 708.0,354.4 708.9,349.3 709.7,351.6 710.5,352.0 711.4,351.9 712.2,346.7 713.0,352.8 713.9,351.4 714.7,352.0 715.6,354.1 716.4,349.9 717.2,351.1 718.5,350.0 718.5,246.5 719.5,246.5 719.5,137.0 719.5,249.0 720.5,249.0 720.5,354.0 721.4,366.6 722.2,368.5 723.1,377.6 723.9,377.1 724.8,381.1 725.6,382.1 726.4,385.6 727.3,382.1 728.1,375.5 728.9,371.8 729.8,368.1 730.6,367.4 731.4,368.5 732.3,374.3 733.1,377.1 734.0,374.2 734.8,372.0 735.6,368.7 736.5,365.4 737.3,367.2 738.1,362.4 739.0,362.1 739.8,354.0 740.7,350.8 741.5,343.0 742.3,328.9 743.2,334.2 744.0,342.0 744.8,342.9 745.7,350.1 746.5,364.1 747.3,377.3 748.2,375.8 749.0,375.7 749.9,372.6 750.7,373.6 751.5,377.0 752.4,376.5 753.2,378.9 754.0,379.5 754.9,380.0 755.7,376.8 756.5,377.2 757.4,376.3 758.2,372.2 759.1,369.2 759.9,367.2 760.7,370.1 761.6,358.9 762.4,355.1 763.2,352.9 764.1,357.3 764.9,354.9 765.7,353.2 766.6,355.4 767.4,363.4 768.3,366.8 769.1,374.0 769.9,373.5 770.8,370.1 771.6,366.4 772.4,366.9 773.3,367.8 774.1,366.9 774.9,365.6 775.8,361.8 776.6,353.0 777.5,346.7 778.3,336.1 779.1,338.6 780.0,328.9 780.8,341.2 781.6,340.8 782.5,346.6 783.3,340.5 784.1,331.1 785.0,334.3 785.8,331.4 786.7,331.7 787.5,336.6 788.3,331.5 789.2,331.2 790.0,329.5 790.8,334.8 791.7,327.6 792.5,330.5 793.4,337.8 794.2,333.8 795.0,329.3 795.9,337.2 796.7,321.9 797.5,325.5 798.4,318.9 799.2,313.7 800.0,323.9 800.9,317.5 801.7,327.8 802.6,329.4 803.4,325.8 804.2,330.4 805.1,327.9 805.9,331.1 806.7,329.3 807.6,337.4 808.4,340.4 809.2,353.0 810.1,356.3 810.9,361.1 811.8,362.3 812.6,363.2 813.4,356.8 814.3,348.6 815.1,350.2 815.9,349.5 816.8,348.8 817.6,349.9 818.4,358.7 819.3,366.9 820.1,369.3 821.0,372.8 821.8,374.7 822.6,375.0 823.5,383.7 824.3,385.6 825.1,388.4 826.0,390.6 826.8,370.6 827.6,379.2 828.5,378.2 829.3,380.6 830.2,378.5 831.0,391.6 831.8,380.8 832.7,388.0 833.5,384.4 834.3,386.4 835.2,386.4 836.0,382.5 836.8,382.8 837.7,378.1 838.5,383.7 839.4,384.9 840.2,385.6 841.0,378.5 841.9,374.8 842.7,385.2 843.5,375.9 844.4,379.6 845.2,374.8 846.1,373.1 846.9,387.8 847.7,371.0 848.6,369.8 849.4,383.1 850.2,364.7 851.1,375.1 851.9,374.0 852.7,374.6 853.6,370.9 854.4,373.5 855.3,374.0 856.1,372.2 856.9,381.3 857.8,367.6 858.6,389.4 859.4,377.7 860.3,377.8 861.1,380.5 861.9,378.5 862.8,378.7 863.6,374.0 864.5,368.6 865.3,371.3 866.1,370.7 867.0,371.1 867.8,374.4 868.6,365.6 869.5,365.1 870.3,377.7 871.1,365.7 872.0,380.6 872.8,390.8 873.7,379.3 874.5,376.0 875.3,384.6 876.2,386.3 877.0,377.9 877.8,382.8 878.7,380.7 879.5,382.4 880.3,381.9 881.2,383.7 882.0,379.7 882.9,381.8 883.7,378.9 884.5,379.6 885.4,381.4 886.2,376.8 887.0,381.0 887.9,381.9 888.7,385.3 889.5,374.4 890.4,375.6 891.2,366.9 892.1,375.5 892.9,375.9 893.7,384.7 894.6,371.4 895.4,375.9 896.2,375.5 897.1,371.5 897.9,377.8 898.7,367.3 899.6,369.9 900.4,367.8 901.3,367.8 902.1,364.5 902.9,363.6 903.8,363.3 904.6,356.9 905.4,358.3 906.3,364.0 907.1,353.4 908.0,347.5 908.8,353.3 909.6,354.0 910.5,350.5 911.3,356.0 912.1,348.0 913.0,349.8 913.8,349.7 914.6,348.8 915.5,352.3 916.3,339.5 917.2,353.5 918.0,349.3 918.8,350.8 919.7,349.9 920.5,341.5 921.3,345.0 922.2,338.2 923.0,333.9 923.8,333.3 924.7,338.3 925.5,344.4 926.4,357.0 927.2,351.0 928.0,357.7 928.9,357.8 929.7,363.5 930.5,365.9 931.4,365.1 932.2,365.0 933.0,362.3" stroke="#f00" stroke-width="1" fill="none" shape-rendering="crispEdges"/>
<path d="M203 453.5H307" stroke="#000" stroke-width="1" shape-rendering="crispEdges"/>
<path d="M91.14 24.41L91.14 30.50M91.14 30.50L94.55 30.50M97.40 24.41L96.83 24.70L96.26 25.28L95.97 25.86L95.69 26.73L95.69 28.18L95.97 29.05L96.26 29.63L96.83 30.21L97.40 30.50L98.53 30.50L99.10 30.21L99.67 29.63L99.96 29.05L100.24 28.18L100.24 26.73L99.96 25.86L99.67 25.28L99.10 24.70L98.53 24.41L97.40 24.41M102.23 24.41L102.23 30.50M102.23 24.41L106.22 30.50M106.22 24.41L106.22 30.50M112.48 25.86L112.19 25.28L111.62 24.70L111.05 24.41L109.91 24.41L109.35 24.70L108.78 25.28L108.49 25.86L108.21 26.73L108.21 28.18L108.49 29.05L108.78 29.63L109.35 30.21L109.91 30.50L111.05 30.50L111.62 30.21L112.19 29.63L112.48 29.05L112.48 28.18M111.05 28.18L112.48 28.18M114.47 24.41L114.47 30.50M117.88 24.41L117.88 30.50M115.89 24.41L119.87 24.41M121.30 24.41L121.30 28.76L121.58 29.63L122.15 30.21L123.00 30.50L123.57 30.50L124.42 30.21L124.99 29.63L125.28 28.76L125.28 24.41M127.55 24.41L127.55 30.50M127.55 24.41L129.55 24.41L130.40 24.70L130.97 25.28L131.25 25.86L131.54 26.73L131.54 28.18L131.25 29.05L130.97 29.63L130.40 30.21L129.55 30.50L127.55 30.50M133.53 24.41L133.53 30.50M133.53 24.41L137.23 24.41M133.53 27.31L135.80 27.31M133.53 30.50L137.23 30.50M143.77 26.56L143.77 26.90M143.77 30.04L143.77 30.38M151.45 25.57L152.02 25.28L152.87 24.41L152.87 30.50M156.57 25.86L156.57 25.57L156.86 24.99L157.14 24.70L157.71 24.41L158.85 24.41L159.42 24.70L159.70 24.99L159.99 25.57L159.99 26.15L159.70 26.73L159.13 27.60L156.29 30.50L160.27 30.50M162.26 25.86L162.26 25.57L162.55 24.99L162.83 24.70L163.40 24.41L164.54 24.41L165.11 24.70L165.39 24.99L165.68 25.57L165.68 26.15L165.39 26.73L164.82 27.60L161.98 30.50L165.96 30.50M167.38 24.41L168.81 30.50M170.23 24.41L168.81 30.50M170.23 24.41L171.65 30.50M173.07 24.41L171.65 30.50M176.77 23.25L176.20 23.83L175.63 24.70L175.07 25.86L174.78 27.31L174.78 28.47L175.07 29.92L175.63 31.08L176.20 31.95L176.77 32.53M178.76 27.89L183.88 27.89M186.73 25.57L187.30 25.28L188.15 24.41L188.15 30.50M191.85 25.86L191.85 25.57L192.14 24.99L192.42 24.70L192.99 24.41L194.13 24.41L194.70 24.70L194.98 24.99L195.26 25.57L195.26 26.15L194.98 26.73L194.41 27.60L191.57 30.50L195.55 30.50M197.54 25.86L197.54 25.57L197.83 24.99L198.11 24.70L198.68 24.41L199.82 24.41L200.39 24.70L200.67 24.99L200.95 25.57L200.95 26.15L200.67 26.73L200.10 27.60L197.26 30.50L201.24 30.50M202.95 23.25L203.52 23.83L204.08 24.70L204.65 25.86L204.94 27.31L204.94 28.47L204.65 29.92L204.08 31.08L203.52 31.95L202.95 32.53M91.14 34.31L91.14 40.40M91.14 40.40L94.55 40.40M97.40 34.31L95.12 40.40M97.40 34.31L99.67 40.40M95.97 38.37L98.82 38.37M102.23 34.31L102.23 40.40M100.24 34.31L104.22 34.31M105.65 34.31L105.65 40.40M109.06 34.31L109.06 40.40M107.07 34.31L111.05 34.31M112.48 34.31L112.48 38.66L112.76 39.53L113.33 40.11L114.18 40.40L114.75 40.40L115.60 40.11L116.17 39.53L116.46 38.66L116.46 34.31M118.73 34.31L118.73 40.40M118.73 34.31L120.73 34.31L121.58 34.60L122.15 35.18L122.43 35.76L122.72 36.63L122.72 38.08L122.43 38.95L122.15 39.53L121.58 40.11L120.73 40.40L118.73 40.40M124.71 34.31L124.71 40.40M124.71 34.31L128.41 34.31M124.71 37.21L126.98 37.21M124.71 40.40L128.41 40.40M134.95 36.46L134.95 36.80M134.95 39.94L134.95 40.28M142.35 34.31L145.48 34.31L143.77 36.63L144.62 36.63L145.19 36.92L145.48 37.21L145.76 38.08L145.76 38.66L145.48 39.53L144.91 40.11L144.06 40.40L143.20 40.40L142.35 40.11L142.06 39.82L141.78 39.24M151.17 35.18L150.88 34.60L150.03 34.31L149.46 34.31L148.61 34.60L148.04 35.47L147.75 36.92L147.75 38.37L148.04 39.53L148.61 40.11L149.46 40.40L149.75 40.40L150.60 40.11L151.17 39.53L151.45 38.66L151.45 38.37L151.17 37.50L150.60 36.92L149.75 36.63L149.46 36.63L148.61 36.92L148.04 37.50L147.75 38.37M153.73 40.05L153.73 40.34M157.43 34.31L156.57 34.60L156.29 35.18L156.29 35.76L156.57 36.34L157.14 36.63L158.28 36.92L159.13 37.21L159.70 37.79L159.99 38.37L159.99 39.24L159.70 39.82L159.42 40.11L158.56 40.40L157.43 40.40L156.57 40.11L156.29 39.82L156.00 39.24L156.00 38.37L156.29 37.79L156.86 37.21L157.71 36.92L158.85 36.63L159.42 36.34L159.70 35.76L159.70 35.18L159.42 34.60L158.56 34.31L157.43 34.31M161.98 34.31L161.98 40.40M161.98 34.31L165.96 40.40M165.96 34.31L165.96 40.40M91.14 44.11L91.14 50.20M91.14 44.11L93.13 44.11L93.98 44.40L94.55 44.98L94.84 45.56L95.12 46.43L95.12 47.88L94.84 48.75L94.55 49.33L93.98 49.91L93.13 50.20L91.14 50.20M97.11 44.11L97.11 50.20M97.11 44.11L100.81 44.11M97.11 47.01L99.39 47.01M97.11 50.20L100.81 50.20M102.52 44.11L102.52 50.20M102.52 44.11L105.08 44.11L105.93 44.40L106.22 44.69L106.50 45.27L106.50 46.14L106.22 46.72L105.93 47.01L105.08 47.30L102.52 47.30M109.63 44.11L109.63 50.20M107.64 44.11L111.62 44.11M113.04 44.11L113.04 50.20M117.03 44.11L117.03 50.20M113.04 47.01L117.03 47.01M125.85 42.95L125.28 43.53L124.71 44.40L124.14 45.56L123.86 47.01L123.86 48.17L124.14 49.62L124.71 50.78L125.28 51.65L125.85 52.23M127.84 46.14L127.84 50.20M127.84 47.30L128.69 46.43L129.26 46.14L130.11 46.14L130.68 46.43L130.97 47.30L130.97 50.20M130.97 47.30L131.82 46.43L132.39 46.14L133.24 46.14L133.81 46.43L134.10 47.30L134.10 50.20M136.09 42.95L136.66 43.53L137.23 44.40L137.80 45.56L138.08 47.01L138.08 48.17L137.80 49.62L137.23 50.78L136.66 51.65L136.09 52.23M145.19 46.26L145.19 46.60M145.19 49.74L145.19 50.08M152.31 47.59L157.43 47.59M159.70 45.56L159.70 45.27L159.99 44.69L160.27 44.40L160.84 44.11L161.98 44.11L162.55 44.40L162.83 44.69L163.12 45.27L163.12 45.85L162.83 46.43L162.26 47.30L159.42 50.20L163.40 50.20M165.68 49.85L165.68 50.14M171.37 44.11L168.52 44.11L168.24 46.72L168.52 46.43L169.38 46.14L170.23 46.14L171.08 46.43L171.65 47.01L171.94 47.88L171.94 48.46L171.65 49.33L171.08 49.91L170.23 50.20L169.38 50.20L168.52 49.91L168.24 49.62L167.95 49.04M90.28 53.81L92.56 56.71L92.56 59.90M94.84 53.81L92.56 56.71M96.26 53.81L96.26 59.90M96.26 53.81L99.96 53.81M96.26 56.71L98.53 56.71M96.26 59.90L99.96 59.90M103.09 53.81L100.81 59.90M103.09 53.81L105.36 59.90M101.66 57.87L104.51 57.87M106.79 53.81L106.79 59.90M106.79 53.81L109.35 53.81L110.20 54.10L110.48 54.39L110.77 54.97L110.77 55.55L110.48 56.13L110.20 56.42L109.35 56.71L106.79 56.71M108.78 56.71L110.77 59.90M117.60 55.96L117.60 56.30M117.60 59.44L117.60 59.78M124.71 55.26L124.71 54.97L124.99 54.39L125.28 54.10L125.85 53.81L126.98 53.81L127.55 54.10L127.84 54.39L128.12 54.97L128.12 55.55L127.84 56.13L127.27 57.00L124.42 59.90L128.41 59.90M131.82 53.81L130.97 54.10L130.40 54.97L130.11 56.42L130.11 57.29L130.40 58.74L130.97 59.61L131.82 59.90L132.39 59.90L133.24 59.61L133.81 58.74L134.10 57.29L134.10 56.42L133.81 54.97L133.24 54.10L132.39 53.81L131.82 53.81M136.66 54.97L137.23 54.68L138.08 53.81L138.08 59.90M142.35 54.97L142.92 54.68L143.77 53.81L143.77 59.90M215.62 71.77L215.62 80.90M215.62 71.77L219.07 80.90M222.52 71.77L219.07 80.90M222.52 71.77L222.52 80.90M227.69 74.81L226.83 75.25L225.97 76.12L225.54 77.42L225.54 78.29L225.97 79.59L226.83 80.47L227.69 80.90L228.99 80.90L229.85 80.47L230.71 79.59L231.14 78.29L231.14 77.42L230.71 76.12L229.85 75.25L228.99 74.81L227.69 74.81M235.88 74.81L235.02 75.25L234.16 76.12L233.73 77.42L233.73 78.29L234.16 79.59L235.02 80.47L235.88 80.90L237.17 80.90L238.04 80.47L238.90 79.59L239.33 78.29L239.33 77.42L238.90 76.12L238.04 75.25L237.17 74.81L235.88 74.81M242.35 74.81L242.35 80.90M242.35 77.42L242.78 76.12L243.64 75.25L244.50 74.81L245.79 74.81M247.52 71.77L247.95 72.20L248.38 71.77L247.95 71.33L247.52 71.77M247.95 74.81L247.95 80.90M251.40 74.81L251.40 80.90M251.40 76.55L252.69 75.25L253.55 74.81L254.84 74.81L255.71 75.25L256.14 76.55L256.14 80.90M264.33 74.81L264.33 81.77L263.90 83.08L263.47 83.51L262.60 83.95L261.31 83.95L260.45 83.51M264.33 76.12L263.47 75.25L262.60 74.81L261.31 74.81L260.45 75.25L259.59 76.12L259.16 77.42L259.16 78.29L259.59 79.59L260.45 80.47L261.31 80.90L262.60 80.90L263.47 80.47L264.33 79.59M274.67 71.77L274.67 80.90M274.67 71.77L278.12 80.90M281.57 71.77L278.12 80.90M281.57 71.77L281.57 80.90M285.88 73.51L286.74 73.07L288.03 71.77L288.03 80.90M300.53 71.77L300.53 80.90M300.53 71.77L303.98 80.90M307.43 71.77L303.98 80.90M307.43 71.77L307.43 80.90M310.44 77.42L315.62 77.42L315.62 76.55L315.19 75.68L314.75 75.25L313.89 74.81L312.60 74.81L311.74 75.25L310.88 76.12L310.44 77.42L310.44 78.29L310.88 79.59L311.74 80.47L312.60 80.90L313.89 80.90L314.75 80.47L315.62 79.59M319.06 71.77L319.06 79.16L319.50 80.47L320.36 80.90L321.22 80.90M317.77 74.81L320.79 74.81M328.12 76.12L327.68 75.25L326.39 74.81L325.10 74.81L323.81 75.25L323.37 76.12L323.81 76.98L324.67 77.42L326.82 77.86L327.68 78.29L328.12 79.16L328.12 79.59L327.68 80.47L326.39 80.90L325.10 80.90L323.81 80.47L323.37 79.59M330.27 74.81L332.86 80.90M335.44 74.81L332.86 80.90L331.99 82.64L331.13 83.51L330.27 83.95L329.84 83.95M342.34 76.12L341.91 75.25L340.61 74.81L339.32 74.81L338.03 75.25L337.60 76.12L338.03 76.98L338.89 77.42L341.05 77.86L341.91 78.29L342.34 79.16L342.34 79.59L341.91 80.47L340.61 80.90L339.32 80.90L338.03 80.47L337.60 79.59M356.99 71.77L356.99 80.90M356.99 76.12L356.13 75.25L355.27 74.81L353.98 74.81L353.11 75.25L352.25 76.12L351.82 77.42L351.82 78.29L352.25 79.59L353.11 80.47L353.98 80.90L355.27 80.90L356.13 80.47L356.99 79.59M365.18 74.81L365.18 80.90M365.18 76.12L364.32 75.25L363.46 74.81L362.16 74.81L361.30 75.25L360.44 76.12L360.01 77.42L360.01 78.29L360.44 79.59L361.30 80.47L362.16 80.90L363.46 80.90L364.32 80.47L365.18 79.59M369.06 71.77L369.06 79.16L369.49 80.47L370.35 80.90L371.22 80.90M367.77 74.81L370.78 74.81M378.54 74.81L378.54 80.90M378.54 76.12L377.68 75.25L376.82 74.81L375.52 74.81L374.66 75.25L373.80 76.12L373.37 77.42L373.37 78.29L373.80 79.59L374.66 80.47L375.52 80.90L376.82 80.90L377.68 80.47L378.54 79.59M391.47 71.77L390.61 71.77L389.75 72.20L389.32 73.51L389.32 80.90M388.02 74.81L391.04 74.81M394.06 74.81L394.06 80.90M394.06 77.42L394.49 76.12L395.35 75.25L396.21 74.81L397.51 74.81M401.38 74.81L400.52 75.25L399.66 76.12L399.23 77.42L399.23 78.29L399.66 79.59L400.52 80.47L401.38 80.90L402.68 80.90L403.54 80.47L404.40 79.59L404.83 78.29L404.83 77.42L404.40 76.12L403.54 75.25L402.68 74.81L401.38 74.81M407.85 74.81L407.85 80.90M407.85 76.55L409.14 75.25L410.00 74.81L411.30 74.81L412.16 75.25L412.59 76.55L412.59 80.90M412.59 76.55L413.88 75.25L414.75 74.81L416.04 74.81L416.90 75.25L417.33 76.55L417.33 80.90M427.68 71.77L427.68 80.90M427.68 71.77L431.12 80.90M434.57 71.77L431.12 80.90M434.57 71.77L434.57 80.90M438.02 71.77L438.02 80.90M438.02 71.77L441.90 71.77L443.19 72.20L443.62 72.64L444.05 73.51L444.05 74.38L443.62 75.25L443.19 75.68L441.90 76.12M438.02 76.12L441.90 76.12L443.19 76.55L443.62 76.98L444.05 77.86L444.05 79.16L443.62 80.03L443.19 80.47L441.90 80.90L438.02 80.90M449.23 71.77L445.78 80.90M449.23 71.77L452.67 80.90M447.07 77.86L451.38 77.86M454.83 71.77L454.83 80.90M454.83 71.77L458.71 71.77L460.00 72.20L460.43 72.64L460.86 73.51L460.86 74.38L460.43 75.25L460.00 75.68L458.71 76.12L454.83 76.12M457.85 76.12L460.86 80.90M463.88 71.77L463.88 80.90M473.79 71.77L474.22 72.20L474.65 71.77L474.22 71.33L473.79 71.77M474.22 74.81L474.22 80.90M477.67 74.81L477.67 80.90M477.67 76.55L478.97 75.25L479.83 74.81L481.12 74.81L481.98 75.25L482.41 76.55L482.41 80.90M490.17 76.12L489.74 75.25L488.45 74.81L487.15 74.81L485.86 75.25L485.43 76.12L485.86 76.98L486.72 77.42L488.88 77.86L489.74 78.29L490.17 79.16L490.17 79.59L489.74 80.47L488.45 80.90L487.15 80.90L485.86 80.47L485.43 79.59M493.62 71.77L493.62 79.16L494.05 80.47L494.91 80.90L495.77 80.90M492.33 74.81L495.34 74.81M498.36 74.81L498.36 80.90M498.36 77.42L498.79 76.12L499.65 75.25L500.51 74.81L501.81 74.81M503.96 74.81L503.96 79.16L504.39 80.47L505.26 80.90L506.55 80.90L507.41 80.47L508.70 79.16M508.70 74.81L508.70 80.90M512.15 74.81L512.15 80.90M512.15 76.55L513.45 75.25L514.31 74.81L515.60 74.81L516.46 75.25L516.89 76.55L516.89 80.90M516.89 76.55L518.19 75.25L519.05 74.81L520.34 74.81L521.20 75.25L521.63 76.55L521.63 80.90M524.65 77.42L529.82 77.42L529.82 76.55L529.39 75.68L528.96 75.25L528.10 74.81L526.81 74.81L525.94 75.25L525.08 76.12L524.65 77.42L524.65 78.29L525.08 79.59L525.94 80.47L526.81 80.90L528.10 80.90L528.96 80.47L529.82 79.59M532.84 74.81L532.84 80.90M532.84 76.55L534.13 75.25L535.00 74.81L536.29 74.81L537.15 75.25L537.58 76.55L537.58 80.90M541.46 71.77L541.46 79.16L541.89 80.47L542.75 80.90L543.62 80.90M540.17 74.81L543.18 74.81M552.67 71.77L553.10 72.20L553.53 71.77L553.10 71.33L552.67 71.77M553.10 74.81L553.10 80.90M561.29 71.77L561.29 80.90M561.29 76.12L560.42 75.25L559.56 74.81L558.27 74.81L557.41 75.25L556.54 76.12L556.11 77.42L556.11 78.29L556.54 79.59L557.41 80.47L558.27 80.90L559.56 80.90L560.42 80.47L561.29 79.59M572.49 73.51L573.35 73.07L574.65 71.77L574.65 80.90M580.68 71.77L585.42 71.77L582.84 75.25L584.13 75.25L584.99 75.68L585.42 76.12L585.85 77.42L585.85 78.29L585.42 79.59L584.56 80.47L583.27 80.90L581.97 80.90L580.68 80.47L580.25 80.03L579.82 79.16M594.04 74.81L593.61 76.12L592.75 76.98L591.46 77.42L591.02 77.42L589.73 76.98L588.87 76.12L588.44 74.81L588.44 74.38L588.87 73.07L589.73 72.20L591.02 71.77L591.46 71.77L592.75 72.20L593.61 73.07L594.04 74.81L594.04 76.98L593.61 79.16L592.75 80.47L591.46 80.90L590.59 80.90L589.30 80.47L588.87 79.59M602.66 73.07L602.23 72.20L600.94 71.77L600.08 71.77L598.78 72.20L597.92 73.51L597.49 75.68L597.49 77.86L597.92 79.59L598.78 80.47L600.08 80.90L600.51 80.90L601.80 80.47L602.66 79.59L603.09 78.29L603.09 77.86L602.66 76.55L601.80 75.68L600.51 75.25L600.08 75.25L598.78 75.68L597.92 76.55L597.49 77.86M617.75 74.81L617.75 80.90M617.75 76.12L616.88 75.25L616.02 74.81L614.73 74.81L613.87 75.25L613.01 76.12L612.58 77.42L612.58 78.29L613.01 79.59L613.87 80.47L614.73 80.90L616.02 80.90L616.88 80.47L617.75 79.59M621.63 71.77L621.63 79.16L622.06 80.47L622.92 80.90L623.78 80.90M620.33 74.81L623.35 74.81M634.99 74.81L634.12 75.25L633.26 76.12L632.83 77.42L632.83 78.29L633.26 79.59L634.12 80.47L634.99 80.90L636.28 80.90L637.14 80.47L638.00 79.59L638.43 78.29L638.43 77.42L638.00 76.12L637.14 75.25L636.28 74.81L634.99 74.81M641.45 74.81L641.45 80.90M641.45 77.42L641.88 76.12L642.75 75.25L643.61 74.81L644.90 74.81M646.62 71.77L647.05 72.20L647.49 71.77L647.05 71.33L646.62 71.77M647.05 74.81L647.05 80.90M655.24 74.81L655.24 81.77L654.81 83.08L654.38 83.51L653.52 83.95L652.23 83.95L651.37 83.51M655.24 76.12L654.38 75.25L653.52 74.81L652.23 74.81L651.37 75.25L650.50 76.12L650.07 77.42L650.07 78.29L650.50 79.59L651.37 80.47L652.23 80.90L653.52 80.90L654.38 80.47L655.24 79.59M658.26 71.77L658.69 72.20L659.12 71.77L658.69 71.33L658.26 71.77M658.69 74.81L658.69 80.90M662.14 74.81L662.14 80.90M662.14 76.55L663.43 75.25L664.29 74.81L665.59 74.81L666.45 75.25L666.88 76.55L666.88 80.90M675.07 74.81L675.07 80.90M675.07 76.12L674.21 75.25L673.35 74.81L672.05 74.81L671.19 75.25L670.33 76.12L669.90 77.42L669.90 78.29L670.33 79.59L671.19 80.47L672.05 80.90L673.35 80.90L674.21 80.47L675.07 79.59M678.52 71.77L678.52 80.90M693.17 76.12L692.74 75.25L691.45 74.81L690.15 74.81L688.86 75.25L688.43 76.12L688.86 76.98L689.72 77.42L691.88 77.86L692.74 78.29L693.17 79.16L693.17 79.59L692.74 80.47L691.45 80.90L690.15 80.90L688.86 80.47L688.43 79.59M700.93 74.81L700.93 80.90M700.93 76.12L700.07 75.25L699.21 74.81L697.91 74.81L697.05 75.25L696.19 76.12L695.76 77.42L695.76 78.29L696.19 79.59L697.05 80.47L697.91 80.90L699.21 80.90L700.07 80.47L700.93 79.59M704.38 74.81L704.38 80.90M704.38 76.55L705.67 75.25L706.53 74.81L707.83 74.81L708.69 75.25L709.12 76.55L709.12 80.90M709.12 76.55L710.41 75.25L711.27 74.81L712.57 74.81L713.43 75.25L713.86 76.55L713.86 80.90M717.31 74.81L717.31 83.95M717.31 76.12L718.17 75.25L719.03 74.81L720.33 74.81L721.19 75.25L722.05 76.12L722.48 77.42L722.48 78.29L722.05 79.59L721.19 80.47L720.33 80.90L719.03 80.90L718.17 80.47L717.31 79.59M725.50 71.77L725.50 80.90M728.51 71.77L728.94 72.20L729.38 71.77L728.94 71.33L728.51 71.77M728.94 74.81L728.94 80.90M732.39 74.81L732.39 80.90M732.39 76.55L733.69 75.25L734.55 74.81L735.84 74.81L736.70 75.25L737.13 76.55L737.13 80.90M745.32 74.81L745.32 81.77L744.89 83.08L744.46 83.51L743.60 83.95L742.31 83.95L741.44 83.51M745.32 76.12L744.46 75.25L743.60 74.81L742.31 74.81L741.44 75.25L740.58 76.12L740.15 77.42L740.15 78.29L740.58 79.59L741.44 80.47L742.31 80.90L743.60 80.90L744.46 80.47L745.32 79.59M755.24 71.77L755.67 72.20L756.10 71.77L755.67 71.33L755.24 71.77M755.67 74.81L755.67 80.90M759.12 74.81L759.12 80.90M759.12 76.55L760.41 75.25L761.27 74.81L762.56 74.81L763.42 75.25L763.86 76.55L763.86 80.90M767.74 71.77L767.74 79.16L768.17 80.47L769.03 80.90L769.89 80.90M766.44 74.81L769.46 74.81M772.04 77.42L777.22 77.42L777.22 76.55L776.79 75.68L776.36 75.25L775.49 74.81L774.20 74.81L773.34 75.25L772.48 76.12L772.04 77.42L772.04 78.29L772.48 79.59L773.34 80.47L774.20 80.90L775.49 80.90L776.36 80.47L777.22 79.59M780.23 74.81L780.23 80.90M780.23 77.42L780.66 76.12L781.53 75.25L782.39 74.81L783.68 74.81M784.98 74.81L787.56 80.90M790.15 74.81L787.56 80.90M797.47 74.81L797.47 80.90M797.47 76.12L796.61 75.25L795.75 74.81L794.46 74.81L793.59 75.25L792.73 76.12L792.30 77.42L792.30 78.29L792.73 79.59L793.59 80.47L794.46 80.90L795.75 80.90L796.61 80.47L797.47 79.59M800.92 71.77L800.92 80.90M808.68 76.12L808.25 75.25L806.96 74.81L805.66 74.81L804.37 75.25L803.94 76.12L804.37 76.98L805.23 77.42L807.39 77.86L808.25 78.29L808.68 79.16L808.68 79.59L808.25 80.47L806.96 80.90L805.66 80.90L804.37 80.47L803.94 79.59M67.72 395.36L66.60 395.70L65.85 396.72L65.47 398.42L65.47 399.44L65.85 401.14L66.60 402.16L67.72 402.50L68.47 402.50L69.60 402.16L70.35 401.14L70.72 399.44L70.72 398.42L70.35 396.72L69.60 395.70L68.47 395.36L67.72 395.36M73.72 402.09L73.72 402.43M59.10 322.72L59.85 322.38L60.97 321.36L60.97 328.50M67.72 321.36L66.60 321.70L65.85 322.72L65.47 324.42L65.47 325.44L65.85 327.14L66.60 328.16L67.72 328.50L68.47 328.50L69.60 328.16L70.35 327.14L70.72 325.44L70.72 324.42L70.35 322.72L69.60 321.70L68.47 321.36L67.72 321.36M73.72 328.09L73.72 328.43M58.35 250.06L58.35 249.72L58.72 249.04L59.10 248.70L59.85 248.36L61.35 248.36L62.10 248.70L62.47 249.04L62.85 249.72L62.85 250.40L62.47 251.08L61.72 252.10L57.97 255.50L63.22 255.50M67.72 248.36L66.60 248.70L65.85 249.72L65.47 251.42L65.47 252.44L65.85 254.14L66.60 255.16L67.72 255.50L68.47 255.50L69.60 255.16L70.35 254.14L70.72 252.44L70.72 251.42L70.35 249.72L69.60 248.70L68.47 248.36L67.72 248.36M73.72 255.09L73.72 255.43M58.72 175.36L62.85 175.36L60.60 178.08L61.72 178.08L62.47 178.42L62.85 178.76L63.22 179.78L63.22 180.46L62.85 181.48L62.10 182.16L60.97 182.50L59.85 182.50L58.72 182.16L58.35 181.82L57.97 181.14M67.72 175.36L66.60 175.70L65.85 176.72L65.47 178.42L65.47 179.44L65.85 181.14L66.60 182.16L67.72 182.50L68.47 182.50L69.60 182.16L70.35 181.14L70.72 179.44L70.72 178.42L70.35 176.72L69.60 175.70L68.47 175.36L67.72 175.36M73.72 182.09L73.72 182.43M61.72 101.36L57.97 106.12L63.60 106.12M61.72 101.36L61.72 108.50M67.72 101.36L66.60 101.70L65.85 102.72L65.47 104.42L65.47 105.44L65.85 107.14L66.60 108.16L67.72 108.50L68.47 108.50L69.60 108.16L70.35 107.14L70.72 105.44L70.72 104.42L70.35 102.72L69.60 101.70L68.47 101.36L67.72 101.36M73.72 108.09L73.72 108.43M106.59 410.52L105.42 410.90L104.64 412.06L104.25 413.98L104.25 415.14L104.64 417.06L105.42 418.22L106.59 418.60L107.37 418.60L108.54 418.22L109.32 417.06L109.71 415.14L109.71 413.98L109.32 412.06L108.54 410.90L107.37 410.52L106.59 410.52M117.12 411.67L116.73 410.90L115.56 410.52L114.78 410.52L113.61 410.90L112.83 412.06L112.44 413.98L112.44 415.91L112.83 417.45L113.61 418.22L114.78 418.60L115.17 418.60L116.34 418.22L117.12 417.45L117.51 416.29L117.51 415.91L117.12 414.75L116.34 413.98L115.17 413.60L114.78 413.60L113.61 413.98L112.83 414.75L112.44 415.91M135.53 412.06L136.31 411.67L137.48 410.52L137.48 418.60M142.55 412.44L142.55 412.06L142.94 411.29L143.33 410.90L144.11 410.52L145.67 410.52L146.45 410.90L146.84 411.29L147.23 412.06L147.23 412.83L146.84 413.60L146.06 414.75L142.16 418.60L147.62 418.60M165.64 412.06L166.42 411.67L167.59 410.52L167.59 418.60M174.22 410.52L173.05 410.90L172.66 411.67L172.66 412.44L173.05 413.21L173.83 413.60L175.39 413.98L176.56 414.37L177.34 415.14L177.73 415.91L177.73 417.06L177.34 417.83L176.95 418.22L175.78 418.60L174.22 418.60L173.05 418.22L172.66 417.83L172.27 417.06L172.27 415.91L172.66 415.14L173.44 414.37L174.61 413.98L176.17 413.60L176.95 413.21L177.34 412.44L177.34 411.67L176.95 410.90L175.78 410.52L174.22 410.52M196.93 410.52L195.76 410.90L194.98 412.06L194.59 413.98L194.59 415.14L194.98 417.06L195.76 418.22L196.93 418.60L197.71 418.60L198.88 418.22L199.66 417.06L200.05 415.14L200.05 413.98L199.66 412.06L198.88 410.90L197.71 410.52L196.93 410.52M204.73 410.52L203.56 410.90L202.78 412.06L202.39 413.98L202.39 415.14L202.78 417.06L203.56 418.22L204.73 418.60L205.51 418.60L206.68 418.22L207.46 417.06L207.85 415.14L207.85 413.98L207.46 412.06L206.68 410.90L205.51 410.52L204.73 410.52M227.04 410.52L225.87 410.90L225.09 412.06L224.70 413.98L224.70 415.14L225.09 417.06L225.87 418.22L227.04 418.60L227.82 418.60L228.99 418.22L229.77 417.06L230.16 415.14L230.16 413.98L229.77 412.06L228.99 410.90L227.82 410.52L227.04 410.52M237.57 411.67L237.18 410.90L236.01 410.52L235.23 410.52L234.06 410.90L233.28 412.06L232.89 413.98L232.89 415.91L233.28 417.45L234.06 418.22L235.23 418.60L235.62 418.60L236.79 418.22L237.57 417.45L237.96 416.29L237.96 415.91L237.57 414.75L236.79 413.98L235.62 413.60L235.23 413.60L234.06 413.98L233.28 414.75L232.89 415.91M255.99 412.06L256.77 411.67L257.94 410.52L257.94 418.60M263.01 412.44L263.01 412.06L263.40 411.29L263.79 410.90L264.57 410.52L266.13 410.52L266.91 410.90L267.30 411.29L267.69 412.06L267.69 412.83L267.30 413.60L266.52 414.75L262.62 418.60L268.08 418.60M286.10 412.06L286.88 411.67L288.05 410.52L288.05 418.60M294.68 410.52L293.51 410.90L293.12 411.67L293.12 412.44L293.51 413.21L294.29 413.60L295.85 413.98L297.02 414.37L297.80 415.14L298.19 415.91L298.19 417.06L297.80 417.83L297.41 418.22L296.24 418.60L294.68 418.60L293.51 418.22L293.12 417.83L292.73 417.06L292.73 415.91L293.12 415.14L293.90 414.37L295.07 413.98L296.63 413.60L297.41 413.21L297.80 412.44L297.80 411.67L297.41 410.90L296.24 410.52L294.68 410.52M317.38 410.52L316.21 410.90L315.43 412.06L315.04 413.98L315.04 415.14L315.43 417.06L316.21 418.22L317.38 418.60L318.16 418.60L319.33 418.22L320.11 417.06L320.50 415.14L320.50 413.98L320.11 412.06L319.33 410.90L318.16 410.52L317.38 410.52M325.18 410.52L324.01 410.90L323.23 412.06L322.84 413.98L322.84 415.14L323.23 417.06L324.01 418.22L325.18 418.60L325.96 418.60L327.13 418.22L327.91 417.06L328.30 415.14L328.30 413.98L327.91 412.06L327.13 410.90L325.96 410.52L325.18 410.52M347.50 410.52L346.33 410.90L345.55 412.06L345.16 413.98L345.16 415.14L345.55 417.06L346.33 418.22L347.50 418.60L348.28 418.60L349.45 418.22L350.23 417.06L350.62 415.14L350.62 413.98L350.23 412.06L349.45 410.90L348.28 410.52L347.50 410.52M358.03 411.67L357.64 410.90L356.47 410.52L355.69 410.52L354.52 410.90L353.74 412.06L353.35 413.98L353.35 415.91L353.74 417.45L354.52 418.22L355.69 418.60L356.08 418.60L357.25 418.22L358.03 417.45L358.42 416.29L358.42 415.91L358.03 414.75L357.25 413.98L356.08 413.60L355.69 413.60L354.52 413.98L353.74 414.75L353.35 415.91M376.44 412.06L377.22 411.67L378.39 410.52L378.39 418.60M383.46 412.44L383.46 412.06L383.85 411.29L384.24 410.90L385.02 410.52L386.58 410.52L387.36 410.90L387.75 411.29L388.14 412.06L388.14 412.83L387.75 413.60L386.97 414.75L383.07 418.60L388.53 418.60M406.56 412.06L407.34 411.67L408.51 410.52L408.51 418.60M415.14 410.52L413.97 410.90L413.58 411.67L413.58 412.44L413.97 413.21L414.75 413.60L416.31 413.98L417.48 414.37L418.26 415.14L418.65 415.91L418.65 417.06L418.26 417.83L417.87 418.22L416.70 418.60L415.14 418.60L413.97 418.22L413.58 417.83L413.19 417.06L413.19 415.91L413.58 415.14L414.36 414.37L415.53 413.98L417.09 413.60L417.87 413.21L418.26 412.44L418.26 411.67L417.87 410.90L416.70 410.52L415.14 410.52M437.84 410.52L436.67 410.90L435.89 412.06L435.50 413.98L435.50 415.14L435.89 417.06L436.67 418.22L437.84 418.60L438.62 418.60L439.79 418.22L440.57 417.06L440.96 415.14L440.96 413.98L440.57 412.06L439.79 410.90L438.62 410.52L437.84 410.52M445.64 410.52L444.47 410.90L443.69 412.06L443.30 413.98L443.30 415.14L443.69 417.06L444.47 418.22L445.64 418.60L446.42 418.60L447.59 418.22L448.37 417.06L448.76 415.14L448.76 413.98L448.37 412.06L447.59 410.90L446.42 410.52L445.64 410.52M467.95 410.52L466.78 410.90L466.00 412.06L465.61 413.98L465.61 415.14L466.00 417.06L466.78 418.22L467.95 418.60L468.73 418.60L469.90 418.22L470.68 417.06L471.07 415.14L471.07 413.98L470.68 412.06L469.90 410.90L468.73 410.52L467.95 410.52M478.48 411.67L478.09 410.90L476.92 410.52L476.14 410.52L474.97 410.90L474.19 412.06L473.80 413.98L473.80 415.91L474.19 417.45L474.97 418.22L476.14 418.60L476.53 418.60L477.70 418.22L478.48 417.45L478.87 416.29L478.87 415.91L478.48 414.75L477.70 413.98L476.53 413.60L476.14 413.60L474.97 413.98L474.19 414.75L473.80 415.91M496.90 412.06L497.68 411.67L498.85 410.52L498.85 418.60M503.92 412.44L503.92 412.06L504.31 411.29L504.70 410.90L505.48 410.52L507.04 410.52L507.82 410.90L508.21 411.29L508.60 412.06L508.60 412.83L508.21 413.60L507.43 414.75L503.53 418.60L508.99 418.60M527.01 412.06L527.79 411.67L528.96 410.52L528.96 418.60M535.59 410.52L534.42 410.90L534.03 411.67L534.03 412.44L534.42 413.21L535.20 413.60L536.76 413.98L537.93 414.37L538.71 415.14L539.10 415.91L539.10 417.06L538.71 417.83L538.32 418.22L537.15 418.60L535.59 418.60L534.42 418.22L534.03 417.83L533.64 417.06L533.64 415.91L534.03 415.14L534.81 414.37L535.98 413.98L537.54 413.60L538.32 413.21L538.71 412.44L538.71 411.67L538.32 410.90L537.15 410.52L535.59 410.52M558.30 410.52L557.13 410.90L556.35 412.06L555.96 413.98L555.96 415.14L556.35 417.06L557.13 418.22L558.30 418.60L559.08 418.60L560.25 418.22L561.03 417.06L561.42 415.14L561.42 413.98L561.03 412.06L560.25 410.90L559.08 410.52L558.30 410.52M566.10 410.52L564.93 410.90L564.15 412.06L563.76 413.98L563.76 415.14L564.15 417.06L564.93 418.22L566.10 418.60L566.88 418.60L568.05 418.22L568.83 417.06L569.22 415.14L569.22 413.98L568.83 412.06L568.05 410.90L566.88 410.52L566.10 410.52M588.41 410.52L587.24 410.90L586.46 412.06L586.07 413.98L586.07 415.14L586.46 417.06L587.24 418.22L588.41 418.60L589.19 418.60L590.36 418.22L591.14 417.06L591.53 415.14L591.53 413.98L591.14 412.06L590.36 410.90L589.19 410.52L588.41 410.52M598.94 411.67L598.55 410.90L597.38 410.52L596.60 410.52L595.43 410.90L594.65 412.06L594.26 413.98L594.26 415.91L594.65 417.45L595.43 418.22L596.60 418.60L596.99 418.60L598.16 418.22L598.94 417.45L599.33 416.29L599.33 415.91L598.94 414.75L598.16 413.98L596.99 413.60L596.60 413.60L595.43 413.98L594.65 414.75L594.26 415.91M617.35 412.06L618.13 411.67L619.30 410.52L619.30 418.60M624.37 412.44L624.37 412.06L624.76 411.29L625.15 410.90L625.93 410.52L627.49 410.52L628.27 410.90L628.66 411.29L629.05 412.06L629.05 412.83L628.66 413.60L627.88 414.75L623.98 418.60L629.44 418.60M647.47 412.06L648.25 411.67L649.42 410.52L649.42 418.60M656.05 410.52L654.88 410.90L654.49 411.67L654.49 412.44L654.88 413.21L655.66 413.60L657.22 413.98L658.39 414.37L659.17 415.14L659.56 415.91L659.56 417.06L659.17 417.83L658.78 418.22L657.61 418.60L656.05 418.60L654.88 418.22L654.49 417.83L654.10 417.06L654.10 415.91L654.49 415.14L655.27 414.37L656.44 413.98L658.00 413.60L658.78 413.21L659.17 412.44L659.17 411.67L658.78 410.90L657.61 410.52L656.05 410.52M678.75 410.52L677.58 410.90L676.80 412.06L676.41 413.98L676.41 415.14L676.80 417.06L677.58 418.22L678.75 418.60L679.53 418.60L680.70 418.22L681.48 417.06L681.87 415.14L681.87 413.98L681.48 412.06L680.70 410.90L679.53 410.52L678.75 410.52M686.55 410.52L685.38 410.90L684.60 412.06L684.21 413.98L684.21 415.14L684.60 417.06L685.38 418.22L686.55 418.60L687.33 418.60L688.50 418.22L689.28 417.06L689.67 415.14L689.67 413.98L689.28 412.06L688.50 410.90L687.33 410.52L686.55 410.52M708.87 410.52L707.70 410.90L706.92 412.06L706.53 413.98L706.53 415.14L706.92 417.06L707.70 418.22L708.87 418.60L709.65 418.60L710.82 418.22L711.60 417.06L711.99 415.14L711.99 413.98L711.60 412.06L710.82 410.90L709.65 410.52L708.87 410.52M719.40 411.67L719.01 410.90L717.84 410.52L717.06 410.52L715.89 410.90L715.11 412.06L714.72 413.98L714.72 415.91L715.11 417.45L715.89 418.22L717.06 418.60L717.45 418.60L718.62 418.22L719.40 417.45L719.79 416.29L719.79 415.91L719.40 414.75L718.62 413.98L717.45 413.60L717.06 413.60L715.89 413.98L715.11 414.75L714.72 415.91M737.81 412.06L738.59 411.67L739.76 410.52L739.76 418.60M744.83 412.44L744.83 412.06L745.22 411.29L745.61 410.90L746.39 410.52L747.95 410.52L748.73 410.90L749.12 411.29L749.51 412.06L749.51 412.83L749.12 413.60L748.34 414.75L744.44 418.60L749.90 418.60M767.92 412.06L768.70 411.67L769.87 410.52L769.87 418.60M776.50 410.52L775.33 410.90L774.94 411.67L774.94 412.44L775.33 413.21L776.11 413.60L777.67 413.98L778.84 414.37L779.62 415.14L780.01 415.91L780.01 417.06L779.62 417.83L779.23 418.22L778.06 418.60L776.50 418.60L775.33 418.22L774.94 417.83L774.55 417.06L774.55 415.91L774.94 415.14L775.72 414.37L776.89 413.98L778.45 413.60L779.23 413.21L779.62 412.44L779.62 411.67L779.23 410.90L778.06 410.52L776.50 410.52M799.21 410.52L798.04 410.90L797.26 412.06L796.87 413.98L796.87 415.14L797.26 417.06L798.04 418.22L799.21 418.60L799.99 418.60L801.16 418.22L801.94 417.06L802.33 415.14L802.33 413.98L801.94 412.06L801.16 410.90L799.99 410.52L799.21 410.52M807.01 410.52L805.84 410.90L805.06 412.06L804.67 413.98L804.67 415.14L805.06 417.06L805.84 418.22L807.01 418.60L807.79 418.60L808.96 418.22L809.74 417.06L810.13 415.14L810.13 413.98L809.74 412.06L808.96 410.90L807.79 410.52L807.01 410.52M829.32 410.52L828.15 410.90L827.37 412.06L826.98 413.98L826.98 415.14L827.37 417.06L828.15 418.22L829.32 418.60L830.10 418.60L831.27 418.22L832.05 417.06L832.44 415.14L832.44 413.98L832.05 412.06L831.27 410.90L830.10 410.52L829.32 410.52M839.85 411.67L839.46 410.90L838.29 410.52L837.51 410.52L836.34 410.90L835.56 412.06L835.17 413.98L835.17 415.91L835.56 417.45L836.34 418.22L837.51 418.60L837.90 418.60L839.07 418.22L839.85 417.45L840.24 416.29L840.24 415.91L839.85 414.75L839.07 413.98L837.90 413.60L837.51 413.60L836.34 413.98L835.56 414.75L835.17 415.91M858.27 412.06L859.05 411.67L860.22 410.52L860.22 418.60M865.29 412.44L865.29 412.06L865.68 411.29L866.07 410.90L866.85 410.52L868.41 410.52L869.19 410.90L869.58 411.29L869.97 412.06L869.97 412.83L869.58 413.60L868.80 414.75L864.90 418.60L870.36 418.60M888.38 412.06L889.16 411.67L890.33 410.52L890.33 418.60M896.96 410.52L895.79 410.90L895.40 411.67L895.40 412.44L895.79 413.21L896.57 413.60L898.13 413.98L899.30 414.37L900.08 415.14L900.47 415.91L900.47 417.06L900.08 417.83L899.69 418.22L898.52 418.60L896.96 418.60L895.79 418.22L895.40 417.83L895.01 417.06L895.01 415.91L895.40 415.14L896.18 414.37L897.35 413.98L898.91 413.60L899.69 413.21L900.08 412.44L900.08 411.67L899.69 410.90L898.52 410.52L896.96 410.52M919.66 410.52L918.49 410.90L917.71 412.06L917.32 413.98L917.32 415.14L917.71 417.06L918.49 418.22L919.66 418.60L920.44 418.60L921.61 418.22L922.39 417.06L922.78 415.14L922.78 413.98L922.39 412.06L921.61 410.90L920.44 410.52L919.66 410.52M927.46 410.52L926.29 410.90L925.51 412.06L925.12 413.98L925.12 415.14L925.51 417.06L926.29 418.22L927.46 418.60L928.24 418.60L929.41 418.22L930.19 417.06L930.58 415.14L930.58 413.98L930.19 412.06L929.41 410.90L928.24 410.52L927.46 410.52M116.51 426.94L115.41 427.50L114.30 428.63L113.75 429.76L113.20 431.46L113.20 434.28L113.75 435.98L114.30 437.11L115.41 438.24L116.51 438.80L118.72 438.80L119.82 438.24L120.93 437.11L121.48 435.98L122.03 434.28L122.03 431.46L121.48 429.76L120.93 428.63L119.82 427.50L118.72 426.94L116.51 426.94M133.62 429.76L133.07 428.63L131.97 427.50L130.86 426.94L128.66 426.94L127.55 427.50L126.45 428.63L125.90 429.76L125.34 431.46L125.34 434.28L125.90 435.98L126.45 437.11L127.55 438.24L128.66 438.80L130.86 438.80L131.97 438.24L133.07 437.11L133.62 435.98M139.70 426.94L139.70 438.80M135.83 426.94L143.56 426.94M156.26 429.19L157.36 428.63L159.02 426.94L159.02 438.80M166.19 429.76L166.19 429.19L166.74 428.06L167.30 427.50L168.40 426.94L170.61 426.94L171.71 427.50L172.26 428.06L172.82 429.19L172.82 430.32L172.26 431.46L171.16 433.15L165.64 438.80L173.37 438.80M229.51 426.94L228.41 427.50L227.30 428.63L226.75 429.76L226.20 431.46L226.20 434.28L226.75 435.98L227.30 437.11L228.41 438.24L229.51 438.80L231.72 438.80L232.82 438.24L233.93 437.11L234.48 435.98L235.03 434.28L235.03 431.46L234.48 429.76L233.93 428.63L232.82 427.50L231.72 426.94L229.51 426.94M246.62 429.76L246.07 428.63L244.97 427.50L243.86 426.94L241.66 426.94L240.55 427.50L239.45 428.63L238.90 429.76L238.34 431.46L238.34 434.28L238.90 435.98L239.45 437.11L240.55 438.24L241.66 438.80L243.86 438.80L244.97 438.24L246.07 437.11L246.62 435.98M252.70 426.94L252.70 438.80M248.83 426.94L256.56 426.94M269.26 429.19L270.36 428.63L272.02 426.94L272.02 438.80M279.74 426.94L285.82 426.94L282.50 431.46L284.16 431.46L285.26 432.02L285.82 432.59L286.37 434.28L286.37 435.41L285.82 437.11L284.71 438.24L283.06 438.80L281.40 438.80L279.74 438.24L279.19 437.67L278.64 436.54M350.11 426.94L349.01 427.50L347.90 428.63L347.35 429.76L346.80 431.46L346.80 434.28L347.35 435.98L347.90 437.11L349.01 438.24L350.11 438.80L352.32 438.80L353.42 438.24L354.53 437.11L355.08 435.98L355.63 434.28L355.63 431.46L355.08 429.76L354.53 428.63L353.42 427.50L352.32 426.94L350.11 426.94M367.22 429.76L366.67 428.63L365.57 427.50L364.46 426.94L362.26 426.94L361.15 427.50L360.05 428.63L359.50 429.76L358.94 431.46L358.94 434.28L359.50 435.98L360.05 437.11L361.15 438.24L362.26 438.80L364.46 438.80L365.57 438.24L366.67 437.11L367.22 435.98M373.30 426.94L373.30 438.80M369.43 426.94L377.16 426.94M389.86 429.19L390.96 428.63L392.62 426.94L392.62 438.80M404.76 426.94L399.24 434.85L407.52 434.85M404.76 426.94L404.76 438.80M470.61 426.94L469.51 427.50L468.40 428.63L467.85 429.76L467.30 431.46L467.30 434.28L467.85 435.98L468.40 437.11L469.51 438.24L470.61 438.80L472.82 438.80L473.92 438.24L475.03 437.11L475.58 435.98L476.13 434.28L476.13 431.46L475.58 429.76L475.03 428.63L473.92 427.50L472.82 426.94L470.61 426.94M487.72 429.76L487.17 428.63L486.07 427.50L484.96 426.94L482.76 426.94L481.65 427.50L480.55 428.63L480.00 429.76L479.44 431.46L479.44 434.28L480.00 435.98L480.55 437.11L481.65 438.24L482.76 438.80L484.96 438.80L486.07 438.24L487.17 437.11L487.72 435.98M493.80 426.94L493.80 438.80M489.93 426.94L497.66 426.94M510.36 429.19L511.46 428.63L513.12 426.94L513.12 438.80M526.36 426.94L520.84 426.94L520.29 432.02L520.84 431.46L522.50 430.89L524.16 430.89L525.81 431.46L526.92 432.59L527.47 434.28L527.47 435.41L526.92 437.11L525.81 438.24L524.16 438.80L522.50 438.80L520.84 438.24L520.29 437.67L519.74 436.54M591.11 426.94L590.01 427.50L588.90 428.63L588.35 429.76L587.80 431.46L587.80 434.28L588.35 435.98L588.90 437.11L590.01 438.24L591.11 438.80L593.32 438.80L594.42 438.24L595.53 437.11L596.08 435.98L596.63 434.28L596.63 431.46L596.08 429.76L595.53 428.63L594.42 427.50L593.32 426.94L591.11 426.94M608.22 429.76L607.67 428.63L606.57 427.50L605.46 426.94L603.26 426.94L602.15 427.50L601.05 428.63L600.50 429.76L599.94 431.46L599.94 434.28L600.50 435.98L601.05 437.11L602.15 438.24L603.26 438.80L605.46 438.80L606.57 438.24L607.67 437.11L608.22 435.98M614.30 426.94L614.30 438.80M610.43 426.94L618.16 426.94M630.86 429.19L631.96 428.63L633.62 426.94L633.62 438.80M647.42 428.63L646.86 427.50L645.21 426.94L644.10 426.94L642.45 427.50L641.34 429.19L640.79 432.02L640.79 434.85L641.34 437.11L642.45 438.24L644.10 438.80L644.66 438.80L646.31 438.24L647.42 437.11L647.97 435.41L647.97 434.85L647.42 433.15L646.31 432.02L644.66 431.46L644.10 431.46L642.45 432.02L641.34 433.15L640.79 434.85M711.51 426.94L710.41 427.50L709.30 428.63L708.75 429.76L708.20 431.46L708.20 434.28L708.75 435.98L709.30 437.11L710.41 438.24L711.51 438.80L713.72 438.80L714.82 438.24L715.93 437.11L716.48 435.98L717.03 434.28L717.03 431.46L716.48 429.76L715.93 428.63L714.82 427.50L713.72 426.94L711.51 426.94M728.62 429.76L728.07 428.63L726.97 427.50L725.86 426.94L723.66 426.94L722.55 427.50L721.45 428.63L720.90 429.76L720.34 431.46L720.34 434.28L720.90 435.98L721.45 437.11L722.55 438.24L723.66 438.80L725.86 438.80L726.97 438.24L728.07 437.11L728.62 435.98M734.70 426.94L734.70 438.80M730.83 426.94L738.56 426.94M751.26 429.19L752.36 428.63L754.02 426.94L754.02 438.80M768.37 426.94L762.85 438.80M760.64 426.94L768.37 426.94M832.31 426.94L831.21 427.50L830.10 428.63L829.55 429.76L829.00 431.46L829.00 434.28L829.55 435.98L830.10 437.11L831.21 438.24L832.31 438.80L834.52 438.80L835.62 438.24L836.73 437.11L837.28 435.98L837.83 434.28L837.83 431.46L837.28 429.76L836.73 428.63L835.62 427.50L834.52 426.94L832.31 426.94M849.42 429.76L848.87 428.63L847.77 427.50L846.66 426.94L844.46 426.94L843.35 427.50L842.25 428.63L841.70 429.76L841.14 431.46L841.14 434.28L841.70 435.98L842.25 437.11L843.35 438.24L844.46 438.80L846.66 438.80L847.77 438.24L848.87 437.11L849.42 435.98M855.50 426.94L855.50 438.80M851.63 426.94L859.36 426.94M872.06 429.19L873.16 428.63L874.82 426.94L874.82 438.80M884.20 426.94L882.54 427.50L881.99 428.63L881.99 429.76L882.54 430.89L883.65 431.46L885.86 432.02L887.51 432.59L888.62 433.72L889.17 434.85L889.17 436.54L888.62 437.67L888.06 438.24L886.41 438.80L884.20 438.80L882.54 438.24L881.99 437.67L881.44 436.54L881.44 434.85L881.99 433.72L883.10 432.59L884.75 432.02L886.96 431.46L888.06 430.89L888.62 429.76L888.62 428.63L888.06 427.50L886.41 426.94L884.20 426.94M327.23 449.16L323.83 458.40M327.23 449.16L330.63 458.40M325.10 455.32L329.36 455.32M331.91 452.24L334.46 458.40M337.02 452.24L334.46 458.40M339.14 454.88L344.25 454.88L344.25 454.00L343.82 453.12L343.40 452.68L342.55 452.24L341.27 452.24L340.42 452.68L339.57 453.56L339.14 454.88L339.14 455.76L339.57 457.08L340.42 457.96L341.27 458.40L342.55 458.40L343.40 457.96L344.25 457.08M347.23 452.24L347.23 458.40M347.23 454.88L347.65 453.56L348.50 452.68L349.36 452.24L350.63 452.24M357.44 452.24L357.44 458.40M357.44 453.56L356.59 452.68L355.74 452.24L354.46 452.24L353.61 452.68L352.76 453.56L352.33 454.88L352.33 455.76L352.76 457.08L353.61 457.96L354.46 458.40L355.74 458.40L356.59 457.96L357.44 457.08M365.52 452.24L365.52 459.28L365.10 460.60L364.67 461.04L363.82 461.48L362.55 461.48L361.69 461.04M365.52 453.56L364.67 452.68L363.82 452.24L362.55 452.24L361.69 452.68L360.84 453.56L360.42 454.88L360.42 455.76L360.84 457.08L361.69 457.96L362.55 458.40L363.82 458.40L364.67 457.96L365.52 457.08M368.50 454.88L373.61 454.88L373.61 454.00L373.18 453.12L372.76 452.68L371.91 452.24L370.63 452.24L369.78 452.68L368.93 453.56L368.50 454.88L368.50 455.76L368.93 457.08L369.78 457.96L370.63 458.40L371.91 458.40L372.76 457.96L373.61 457.08M382.54 449.16L384.67 458.40M386.80 449.16L384.67 458.40M386.80 449.16L388.93 458.40M391.05 449.16L388.93 458.40M393.18 449.16L393.61 449.60L394.03 449.16L393.61 448.72L393.18 449.16M393.61 452.24L393.61 458.40M397.01 452.24L397.01 458.40M397.01 454.00L398.29 452.68L399.14 452.24L400.42 452.24L401.27 452.68L401.69 454.00L401.69 458.40M409.78 449.16L409.78 458.40M409.78 453.56L408.93 452.68L408.07 452.24L406.80 452.24L405.95 452.68L405.10 453.56L404.67 454.88L404.67 455.76L405.10 457.08L405.95 457.96L406.80 458.40L408.07 458.40L408.93 457.96L409.78 457.08M425.52 450.48L424.67 449.60L423.39 449.16L421.69 449.16L420.41 449.60L419.56 450.48L419.56 451.36L419.99 452.24L420.41 452.68L421.26 453.12L423.82 454.00L424.67 454.44L425.09 454.88L425.52 455.76L425.52 457.08L424.67 457.96L423.39 458.40L421.69 458.40L420.41 457.96L419.56 457.08M428.50 452.24L428.50 461.48M428.50 453.56L429.35 452.68L430.20 452.24L431.48 452.24L432.33 452.68L433.18 453.56L433.60 454.88L433.60 455.76L433.18 457.08L432.33 457.96L431.48 458.40L430.20 458.40L429.35 457.96L428.50 457.08M436.16 454.88L441.26 454.88L441.26 454.00L440.84 453.12L440.41 452.68L439.56 452.24L438.28 452.24L437.43 452.68L436.58 453.56L436.16 454.88L436.16 455.76L436.58 457.08L437.43 457.96L438.28 458.40L439.56 458.40L440.41 457.96L441.26 457.08M443.82 454.88L448.92 454.88L448.92 454.00L448.50 453.12L448.07 452.68L447.22 452.24L445.94 452.24L445.09 452.68L444.24 453.56L443.82 454.88L443.82 455.76L444.24 457.08L445.09 457.96L445.94 458.40L447.22 458.40L448.07 457.96L448.92 457.08M456.58 449.16L456.58 458.40M456.58 453.56L455.73 452.68L454.88 452.24L453.60 452.24L452.75 452.68L451.90 453.56L451.48 454.88L451.48 455.76L451.90 457.08L452.75 457.96L453.60 458.40L454.88 458.40L455.73 457.96L456.58 457.08M469.77 447.40L468.92 448.28L468.07 449.60L467.22 451.36L466.79 453.56L466.79 455.32L467.22 457.52L468.07 459.28L468.92 460.60L469.77 461.48M478.28 450.48L477.43 449.60L476.15 449.16L474.45 449.16L473.18 449.60L472.32 450.48L472.32 451.36L472.75 452.24L473.18 452.68L474.03 453.12L476.58 454.00L477.43 454.44L477.86 454.88L478.28 455.76L478.28 457.08L477.43 457.96L476.15 458.40L474.45 458.40L473.18 457.96L472.32 457.08M482.96 452.24L482.11 452.68L481.26 453.56L480.83 454.88L480.83 455.76L481.26 457.08L482.11 457.96L482.96 458.40L484.24 458.40L485.09 457.96L485.94 457.08L486.37 455.76L486.37 454.88L485.94 453.56L485.09 452.68L484.24 452.24L482.96 452.24M489.34 452.24L489.34 458.40M489.34 454.00L490.62 452.68L491.47 452.24L492.75 452.24L493.60 452.68L494.03 454.00L494.03 458.40M497.00 449.16L497.43 449.60L497.85 449.16L497.43 448.72L497.00 449.16M497.43 452.24L497.43 458.40M505.51 453.56L504.66 452.68L503.81 452.24L502.54 452.24L501.68 452.68L500.83 453.56L500.41 454.88L500.41 455.76L500.83 457.08L501.68 457.96L502.54 458.40L503.81 458.40L504.66 457.96L505.51 457.08M508.49 454.44L516.15 454.44M519.56 452.24L519.56 458.40M519.56 454.00L520.83 452.68L521.68 452.24L522.96 452.24L523.81 452.68L524.24 454.00L524.24 458.40M534.45 447.40L526.79 461.48M541.68 452.24L541.68 458.40M541.68 453.56L540.83 452.68L539.98 452.24L538.70 452.24L537.85 452.68L537.00 453.56L536.58 454.88L536.58 455.76L537.00 457.08L537.85 457.96L538.70 458.40L539.98 458.40L540.83 457.96L541.68 457.08M544.66 447.40L545.51 448.28L546.36 449.60L547.21 451.36L547.64 453.56L547.64 455.32L547.21 457.52L546.36 459.28L545.51 460.60L544.66 461.48M560.83 447.40L559.98 448.28L559.13 449.60L558.28 451.36L557.85 453.56L557.85 455.32L558.28 457.52L559.13 459.28L559.98 460.60L560.83 461.48M563.81 449.16L563.81 458.40M568.06 452.24L563.81 456.64M565.51 454.88L568.49 458.40M571.04 452.24L571.04 458.40M571.04 454.00L572.32 452.68L573.17 452.24L574.44 452.24L575.30 452.68L575.72 454.00L575.72 458.40M580.83 452.24L579.98 452.68L579.13 453.56L578.70 454.88L578.70 455.76L579.13 457.08L579.98 457.96L580.83 458.40L582.10 458.40L582.95 457.96L583.81 457.08L584.23 455.76L584.23 454.88L583.81 453.56L582.95 452.68L582.10 452.24L580.83 452.24M587.64 449.16L587.64 456.64L588.06 457.96L588.91 458.40L589.76 458.40M586.36 452.24L589.34 452.24M596.57 453.56L596.15 452.68L594.87 452.24L593.59 452.24L592.32 452.68L591.89 453.56L592.32 454.44L593.17 454.88L595.29 455.32L596.15 455.76L596.57 456.64L596.57 457.08L596.15 457.96L594.87 458.40L593.59 458.40L592.32 457.96L591.89 457.08M599.12 447.40L599.97 448.28L600.83 449.60L601.68 451.36L602.10 453.56L602.10 455.32L601.68 457.52L600.83 459.28L599.97 460.60L599.12 461.48M688.97 449.16L691.14 458.40M693.31 449.16L691.14 458.40M693.31 449.16L695.48 458.40M697.65 449.16L695.48 458.40M699.82 449.16L700.25 449.60L700.69 449.16L700.25 448.72L699.82 449.16M700.25 452.24L700.25 458.40M703.72 452.24L703.72 458.40M703.72 454.00L705.03 452.68L705.89 452.24L707.20 452.24L708.06 452.68L708.50 454.00L708.50 458.40M716.74 449.16L716.74 458.40M716.74 453.56L715.88 452.68L715.01 452.24L713.71 452.24L712.84 452.68L711.97 453.56L711.54 454.88L711.54 455.76L711.97 457.08L712.84 457.96L713.71 458.40L715.01 458.40L715.88 457.96L716.74 457.08M732.80 450.48L731.93 449.60L730.63 449.16L728.90 449.16L727.59 449.60L726.73 450.48L726.73 451.36L727.16 452.24L727.59 452.68L728.46 453.12L731.07 454.00L731.93 454.44L732.37 454.88L732.80 455.76L732.80 457.08L731.93 457.96L730.63 458.40L728.90 458.40L727.59 457.96L726.73 457.08M735.84 452.24L735.84 461.48M735.84 453.56L736.71 452.68L737.58 452.24L738.88 452.24L739.75 452.68L740.61 453.56L741.05 454.88L741.05 455.76L740.61 457.08L739.75 457.96L738.88 458.40L737.58 458.40L736.71 457.96L735.84 457.08M743.65 454.88L748.86 454.88L748.86 454.00L748.43 453.12L747.99 452.68L747.12 452.24L745.82 452.24L744.95 452.68L744.09 453.56L743.65 454.88L743.65 455.76L744.09 457.08L744.95 457.96L745.82 458.40L747.12 458.40L747.99 457.96L748.86 457.08M751.46 454.88L756.67 454.88L756.67 454.00L756.24 453.12L755.80 452.68L754.94 452.24L753.63 452.24L752.77 452.68L751.90 453.56L751.46 454.88L751.46 455.76L751.90 457.08L752.77 457.96L753.63 458.40L754.94 458.40L755.80 457.96L756.67 457.08M764.48 449.16L764.48 458.40M764.48 453.56L763.62 452.68L762.75 452.24L761.45 452.24L760.58 452.68L759.71 453.56L759.28 454.88L759.28 455.76L759.71 457.08L760.58 457.96L761.45 458.40L762.75 458.40L763.62 457.96L764.48 457.08M777.94 447.40L777.07 448.28L776.20 449.60L775.33 451.36L774.90 453.56L774.90 455.32L775.33 457.52L776.20 459.28L777.07 460.60L777.94 461.48M780.11 449.16L782.28 458.40M784.45 449.16L782.28 458.40M784.45 449.16L786.62 458.40M788.79 449.16L786.62 458.40M790.96 449.16L791.39 449.60L791.83 449.16L791.39 448.72L790.96 449.16M791.39 452.24L791.39 458.40M794.86 452.24L794.86 458.40M794.86 454.00L796.17 452.68L797.03 452.24L798.34 452.24L799.20 452.68L799.64 454.00L799.64 458.40M807.88 449.16L807.88 458.40M807.88 453.56L807.02 452.68L806.15 452.24L804.85 452.24L803.98 452.68L803.11 453.56L802.68 454.88L802.68 455.76L803.11 457.08L803.98 457.96L804.85 458.40L806.15 458.40L807.02 457.96L807.88 457.08M811.36 449.16L811.36 458.40M811.36 453.56L812.22 452.68L813.09 452.24L814.39 452.24L815.26 452.68L816.13 453.56L816.56 454.88L816.56 455.76L816.13 457.08L815.26 457.96L814.39 458.40L813.09 458.40L812.22 457.96L811.36 457.08M819.17 449.16L819.60 449.60L820.04 449.16L819.60 448.72L819.17 449.16M819.60 452.24L819.60 458.40M823.07 452.24L823.07 458.40M823.07 454.88L823.51 453.56L824.38 452.68L825.24 452.24L826.55 452.24M833.49 449.16L833.49 458.40M833.49 453.56L832.62 452.68L831.75 452.24L830.45 452.24L829.58 452.68L828.72 453.56L828.28 454.88L828.28 455.76L828.72 457.08L829.58 457.96L830.45 458.40L831.75 458.40L832.62 457.96L833.49 457.08M836.53 447.40L837.40 448.28L838.26 449.60L839.13 451.36L839.57 453.56L839.57 455.32L839.13 457.52L838.26 459.28L837.40 460.60L836.53 461.48M853.02 447.40L852.15 448.28L851.28 449.60L850.42 451.36L849.98 453.56L849.98 455.32L850.42 457.52L851.28 459.28L852.15 460.60L853.02 461.48M856.06 449.16L856.06 458.40M860.40 452.24L856.06 456.64M857.79 454.88L860.83 458.40M863.44 452.24L863.44 458.40M863.44 454.00L864.74 452.68L865.61 452.24L866.91 452.24L867.78 452.68L868.21 454.00L868.21 458.40M873.42 452.24L872.55 452.68L871.68 453.56L871.25 454.88L871.25 455.76L871.68 457.08L872.55 457.96L873.42 458.40L874.72 458.40L875.59 457.96L876.46 457.08L876.89 455.76L876.89 454.88L876.46 453.56L875.59 452.68L874.72 452.24L873.42 452.24M880.36 449.16L880.36 456.64L880.80 457.96L881.66 458.40L882.53 458.40M879.06 452.24L882.10 452.24M889.48 453.56L889.04 452.68L887.74 452.24L886.44 452.24L885.14 452.68L884.70 453.56L885.14 454.44L886.00 454.88L888.17 455.32L889.04 455.76L889.48 456.64L889.48 457.08L889.04 457.96L887.74 458.40L886.44 458.40L885.14 457.96L884.70 457.08M892.08 447.40L892.95 448.28L893.82 449.60L894.68 451.36L895.12 453.56L895.12 455.32L894.68 457.52L893.82 459.28L892.95 460.60L892.08 461.48" stroke="#000" stroke-width="1" fill="none" shape-rendering="crispEdges" stroke-linecap="square"/>
<path d="M568 453.5H672" stroke="#f00" stroke-width="1" shape-rendering="crispEdges"/>
</svg></body></html>
